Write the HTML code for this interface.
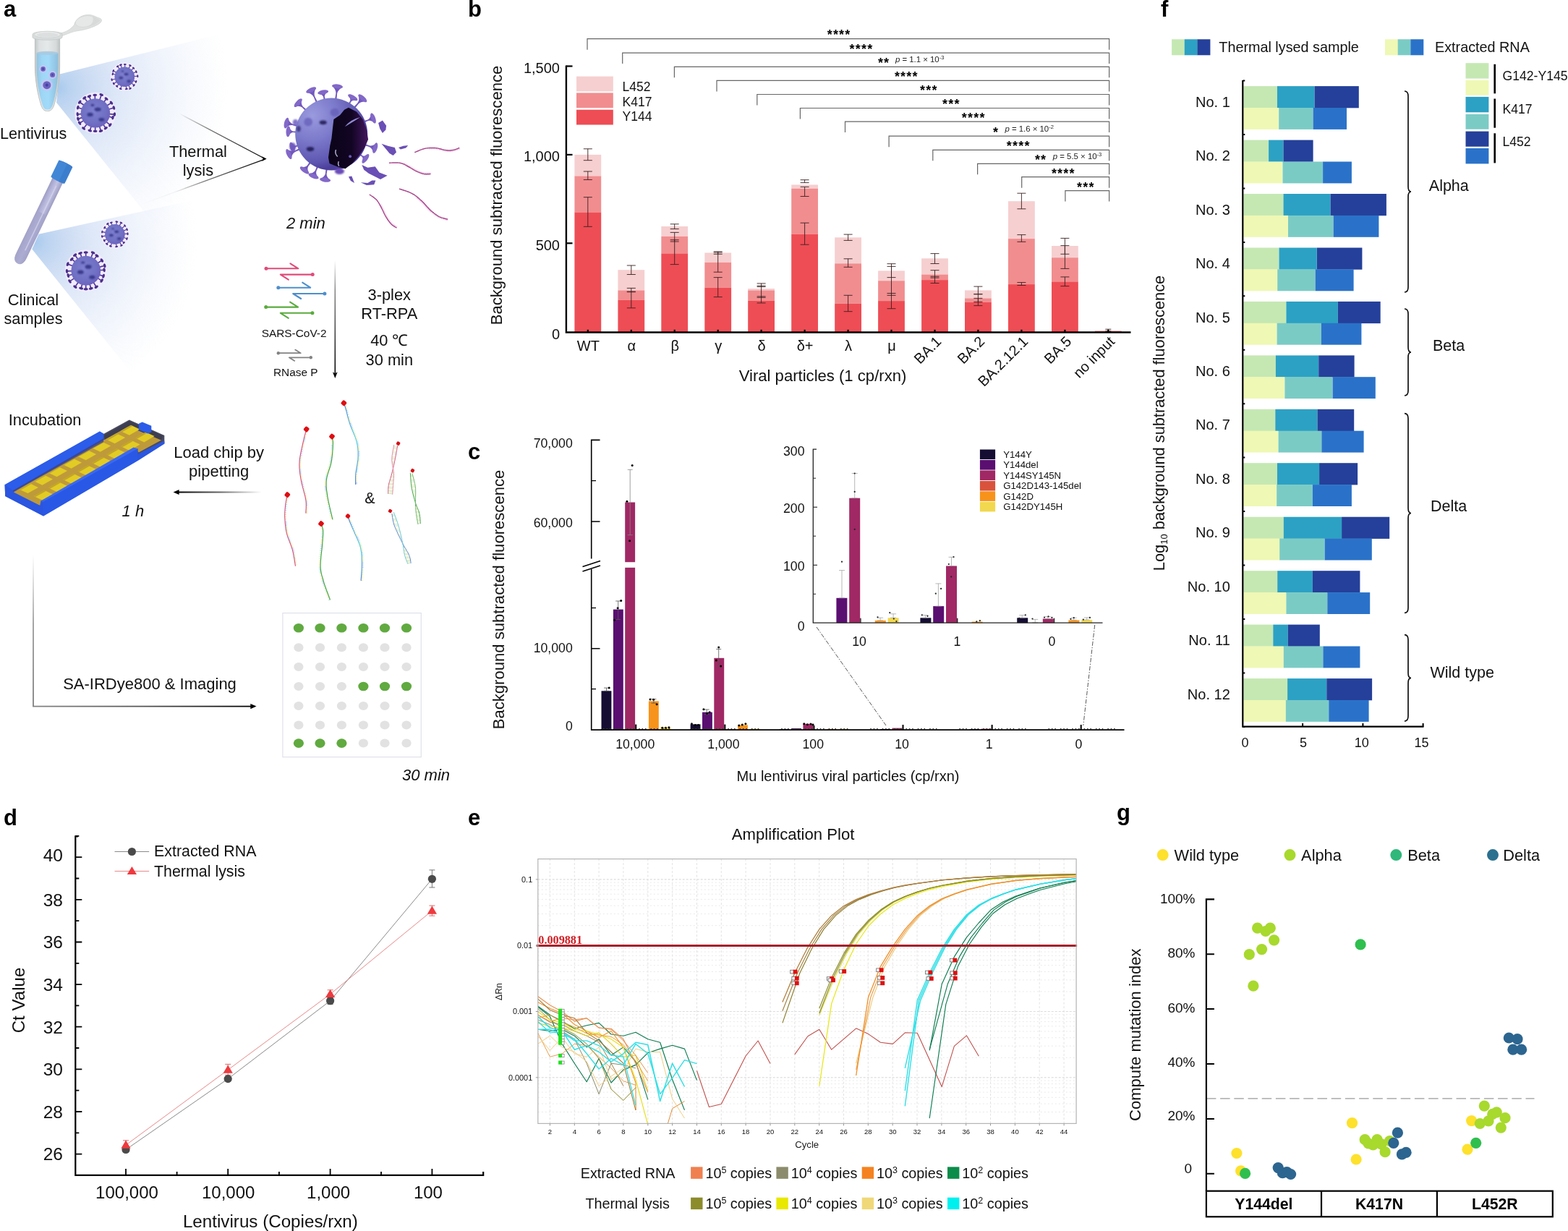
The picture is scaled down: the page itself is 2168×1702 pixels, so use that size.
<!DOCTYPE html>
<html lang="en">
<head>
<meta charset="utf-8">
<title>Figure</title>
<style>
html,body{margin:0;padding:0;background:#fff;}
body{width:2168px;height:1702px;overflow:hidden;}
svg{display:block;font-family:"Liberation Sans",sans-serif;}
</style>
</head>
<body>
<svg width="2168" height="1702" viewBox="0 0 2168 1702">
<rect width="2168" height="1702" fill="#fff"/>
<g id="panel-a">
<defs>
<radialGradient id="gBeam1" gradientUnits="userSpaceOnUse" cx="80" cy="122" r="235">
<stop offset="0" stop-color="#a8caee" stop-opacity="1"/><stop offset="0.07" stop-color="#bad3f0" stop-opacity="1"/><stop offset="0.2" stop-color="#cbdbf3" stop-opacity="0.95"/><stop offset="0.36" stop-color="#d6e2f6" stop-opacity="0.8"/><stop offset="0.62" stop-color="#dfe8f8" stop-opacity="0.5"/><stop offset="1" stop-color="#e8eefa" stop-opacity="0"/>
</radialGradient>
<radialGradient id="gBeam2" gradientUnits="userSpaceOnUse" cx="48" cy="334" r="225">
<stop offset="0" stop-color="#a8caee" stop-opacity="1"/><stop offset="0.07" stop-color="#bad3f0" stop-opacity="1"/><stop offset="0.2" stop-color="#cbdbf3" stop-opacity="0.95"/><stop offset="0.36" stop-color="#d6e2f6" stop-opacity="0.8"/><stop offset="0.62" stop-color="#dfe8f8" stop-opacity="0.5"/><stop offset="1" stop-color="#e8eefa" stop-opacity="0"/>
</radialGradient>
<radialGradient id="gVirus" cx="0.45" cy="0.42" r="0.68">
<stop offset="0" stop-color="#7f80d0"/><stop offset="0.6" stop-color="#7070c4"/><stop offset="1" stop-color="#6a5cba"/>
</radialGradient>
<radialGradient id="gBig" gradientUnits="userSpaceOnUse" cx="432" cy="160" r="75">
<stop offset="0" stop-color="#9a9ade"/><stop offset="0.45" stop-color="#7c7acb"/><stop offset="0.85" stop-color="#5f58b2"/><stop offset="1" stop-color="#4c3f9c"/>
</radialGradient>
<linearGradient id="gDark" gradientUnits="userSpaceOnUse" x1="455" y1="0" x2="512" y2="0">
<stop offset="0" stop-color="#0b0418"/><stop offset="0.55" stop-color="#120524"/><stop offset="1" stop-color="#4a1766"/>
</linearGradient>
<linearGradient id="gLineA" gradientUnits="userSpaceOnUse" x1="248" y1="0" x2="367" y2="0">
<stop offset="0" stop-color="#000" stop-opacity="0"/><stop offset="0.35" stop-color="#000" stop-opacity="0.55"/><stop offset="1" stop-color="#000" stop-opacity="1"/>
</linearGradient>
<linearGradient id="gLineB" gradientUnits="userSpaceOnUse" x1="194" y1="0" x2="367" y2="0">
<stop offset="0" stop-color="#000" stop-opacity="0"/><stop offset="0.28" stop-color="#000" stop-opacity="0.05"/><stop offset="0.5" stop-color="#000" stop-opacity="0.5"/><stop offset="1" stop-color="#000" stop-opacity="1"/>
</linearGradient>
<linearGradient id="gArrV" gradientUnits="userSpaceOnUse" x1="0" y1="360" x2="0" y2="520">
<stop offset="0" stop-color="#000" stop-opacity="0"/><stop offset="0.25" stop-color="#000" stop-opacity="0.45"/><stop offset="1" stop-color="#000" stop-opacity="1"/>
</linearGradient>
<linearGradient id="gArrH" gradientUnits="userSpaceOnUse" x1="362" y1="0" x2="245" y2="0">
<stop offset="0" stop-color="#000" stop-opacity="0"/><stop offset="0.5" stop-color="#000" stop-opacity="0.6"/><stop offset="1" stop-color="#000" stop-opacity="1"/>
</linearGradient>
<linearGradient id="gArrL" gradientUnits="userSpaceOnUse" x1="46" y1="767" x2="46" y2="977">
<stop offset="0" stop-color="#999" stop-opacity="0"/><stop offset="0.45" stop-color="#909090" stop-opacity="0.85"/><stop offset="1" stop-color="#858585" stop-opacity="1"/>
</linearGradient>
<linearGradient id="gArrL2" gradientUnits="userSpaceOnUse" x1="46" y1="0" x2="350" y2="0">
<stop offset="0" stop-color="#858585"/><stop offset="0.5" stop-color="#555"/><stop offset="1" stop-color="#000"/>
</linearGradient>
<linearGradient id="gTube" x1="0" y1="0" x2="1" y2="0">
<stop offset="0" stop-color="#c2c8c8"/><stop offset="0.18" stop-color="#dde1e1"/><stop offset="0.5" stop-color="#e6e9e9"/><stop offset="0.85" stop-color="#d6dada"/><stop offset="1" stop-color="#bcc2c2"/>
</linearGradient>
<linearGradient id="gLiq" x1="0" y1="0" x2="1" y2="0">
<stop offset="0" stop-color="#94c4e0"/><stop offset="0.25" stop-color="#9ed6f6"/><stop offset="0.55" stop-color="#a2daf9"/><stop offset="1" stop-color="#8cbedc"/>
</linearGradient>
<linearGradient id="gCTube" gradientUnits="userSpaceOnUse" x1="-8.4" y1="0" x2="8.4" y2="0">
<stop offset="0" stop-color="#9c9cc4"/><stop offset="0.3" stop-color="#b2b2d8"/><stop offset="0.55" stop-color="#c2c2e2"/><stop offset="1" stop-color="#9a9ac2"/>
</linearGradient>
<linearGradient id="gBlueCy" x1="0" y1="0" x2="0" y2="1">
<stop offset="0" stop-color="#4f7fd0"/><stop offset="0.45" stop-color="#58d0e0"/><stop offset="1" stop-color="#5080d0"/>
</linearGradient>
<filter id="blur1" x="-50%" y="-50%" width="200%" height="200%"><feGaussianBlur stdDeviation="0.9"/></filter>
<filter id="blur2" x="-50%" y="-50%" width="200%" height="200%"><feGaussianBlur stdDeviation="2.2"/></filter>
<filter id="blur3" x="-20%" y="-20%" width="140%" height="140%"><feGaussianBlur stdDeviation="3"/></filter>
<filter id="blur03" x="-10%" y="-10%" width="120%" height="120%"><feGaussianBlur stdDeviation="0.35"/></filter>
<filter id="blur05" x="-20%" y="-20%" width="140%" height="140%"><feGaussianBlur stdDeviation="0.5"/></filter>
</defs>
<text x="5.0" y="23.0" font-size="31" font-weight="bold" fill="#000">a</text>
<polygon points="82.5,102.6 330,40.8 330,455 78,141.7" fill="url(#gBeam1)" filter="url(#blur05)"/>
<polygon points="53.5,323.8 290,271.8 290,650 44.3,344.4" fill="url(#gBeam2)" filter="url(#blur05)"/>
<g id="eppendorf" filter="url(#blur03)">
<path d="M80 46.5C92 45 98 40 102.5 34.5C104 28 110 21.5 120 20.5C128 19.8 131 23 137.5 25C142 26.5 141.5 30 136 33.5C128 38.5 116 41.5 108 42.5C100 43.5 95 46.5 86 49.5Z" fill="#dfe0e0" stroke="#cfd1d1" stroke-width="0.7"/>
<ellipse cx="118" cy="29.6" rx="14" ry="7.6" fill="#e6e7e7" stroke="#d2d4d4" stroke-width="0.6" transform="rotate(-12 118 29.6)"/>
<path d="M128 22.5C133 24 137 26 138.5 28.5C134 33 127 36 121 37.5C127 34 130 29 128 22.5Z" fill="#d6d8d8" opacity="0.8"/>
<path d="M48.4 52V92C48.4 110 52 131 57 146C59.5 152.5 62 153.6 65.6 153.6C69.2 153.6 72 152.5 74.5 146C79.5 131 82.6 110 82.6 92V52Z" fill="url(#gTube)" stroke="#b9bebe" stroke-width="0.9"/>
<path d="M50.6 73.5V92C50.6 110 53.8 130.5 58.7 145C60.7 150.6 62.7 151.6 65.6 151.6C68.5 151.6 70.7 150.6 72.8 145C77.6 130.5 80.4 110 80.4 92V73.5C72 71.5 59 71.5 50.6 73.5Z" fill="url(#gLiq)"/>
<ellipse cx="65.5" cy="73.4" rx="14.9" ry="2.6" fill="#a8c9df" opacity="0.85"/>
<path d="M45 47.5C45 42 86 42 86 47.5V51.5C86 56.5 45 56.5 45 51.5Z" fill="#d9dcdc" stroke="#c2c6c6" stroke-width="0.7"/>
<ellipse cx="65.5" cy="47.8" rx="18" ry="4.6" fill="#e8eaea" stroke="#cbcfcf" stroke-width="0.7"/>
<ellipse cx="65.5" cy="48.4" rx="14.6" ry="3.1" fill="#dcdfdf"/>
<circle cx="59.6" cy="95.4" r="5.4" fill="#c9c6f2" opacity="0.85"/>
<circle cx="59.6" cy="95.4" r="3.3" fill="#6c62c2"/>
<circle cx="59.6" cy="95.4" r="1.3" fill="#3e3c96" opacity="0.8"/>
<circle cx="72.6" cy="103.5" r="5.7" fill="#c9c6f2" opacity="0.85"/>
<circle cx="72.6" cy="103.5" r="3.5" fill="#6c62c2"/>
<circle cx="72.6" cy="103.5" r="1.3" fill="#3e3c96" opacity="0.8"/>
<circle cx="64.8" cy="117.7" r="8.2" fill="#c9c6f2" opacity="0.85"/>
<circle cx="64.8" cy="117.7" r="5.5" fill="#6c62c2"/>
<circle cx="64.8" cy="117.7" r="2.1" fill="#3e3c96" opacity="0.8"/>
</g>
<circle cx="172.3" cy="106.2" r="19.6" fill="#f2ebff" opacity="0.92"/>
<path d="M185.6 105.5L190.3 105.3M184.6 111.5L188.1 113.0M182.2 115.2L185.2 118.0M178.0 118.3L180.0 122.4M174.3 119.4L174.8 123.0M168.0 118.9L166.7 122.8M163.9 116.6L161.6 119.3M161.0 113.3L157.2 115.7M159.3 109.2L154.6 110.2M159.3 103.0L155.8 102.2M160.5 99.9L156.7 97.9M164.9 95.1L162.7 91.7M168.1 93.5L166.9 89.6M172.7 92.8L172.8 89.0M178.2 94.2L180.0 90.4M181.8 96.8L184.6 94.1M184.6 100.9L188.4 99.2" stroke="#553796" stroke-width="1.14" fill="none" stroke-linecap="round"/>
<ellipse cx="190.3" cy="105.3" rx="2.0" ry="1.1" fill="#4a2e8a" transform="rotate(87 190.3 105.3)"/>
<ellipse cx="188.1" cy="113.0" rx="2.0" ry="1.1" fill="#4a2e8a" transform="rotate(113 188.1 113.0)"/>
<ellipse cx="185.2" cy="118.0" rx="2.0" ry="1.1" fill="#4a2e8a" transform="rotate(132 185.2 118.0)"/>
<ellipse cx="180.0" cy="122.4" rx="2.0" ry="1.1" fill="#4a2e8a" transform="rotate(155 180.0 122.4)"/>
<ellipse cx="174.8" cy="123.0" rx="2.0" ry="1.1" fill="#4a2e8a" transform="rotate(171 174.8 123.0)"/>
<ellipse cx="166.7" cy="122.8" rx="2.0" ry="1.1" fill="#4a2e8a" transform="rotate(199 166.7 122.8)"/>
<ellipse cx="161.6" cy="119.3" rx="2.0" ry="1.1" fill="#4a2e8a" transform="rotate(219 161.6 119.3)"/>
<ellipse cx="157.2" cy="115.7" rx="2.0" ry="1.1" fill="#4a2e8a" transform="rotate(238 157.2 115.7)"/>
<ellipse cx="154.6" cy="110.2" rx="2.0" ry="1.1" fill="#4a2e8a" transform="rotate(257 154.6 110.2)"/>
<ellipse cx="155.8" cy="102.2" rx="2.0" ry="1.1" fill="#4a2e8a" transform="rotate(284 155.8 102.2)"/>
<ellipse cx="156.7" cy="97.9" rx="2.0" ry="1.1" fill="#4a2e8a" transform="rotate(298 156.7 97.9)"/>
<ellipse cx="162.7" cy="91.7" rx="2.0" ry="1.1" fill="#4a2e8a" transform="rotate(326 162.7 91.7)"/>
<ellipse cx="166.9" cy="89.6" rx="2.0" ry="1.1" fill="#4a2e8a" transform="rotate(342 166.9 89.6)"/>
<ellipse cx="172.8" cy="89.0" rx="2.0" ry="1.1" fill="#4a2e8a" transform="rotate(362 172.8 89.0)"/>
<ellipse cx="180.0" cy="90.4" rx="2.0" ry="1.1" fill="#4a2e8a" transform="rotate(386 180.0 90.4)"/>
<ellipse cx="184.6" cy="94.1" rx="2.0" ry="1.1" fill="#4a2e8a" transform="rotate(406 184.6 94.1)"/>
<ellipse cx="188.4" cy="99.2" rx="2.0" ry="1.1" fill="#4a2e8a" transform="rotate(427 188.4 99.2)"/>
<circle cx="172.3" cy="106.2" r="13.8" fill="url(#gVirus)"/>
<ellipse cx="174.5" cy="102.6" rx="3.0" ry="1.9" fill="#2b2b7c" opacity="0.8" filter="url(#blur1)"/>
<ellipse cx="167.3" cy="107.6" rx="2.9" ry="1.8" fill="#2b2b7c" opacity="0.8" filter="url(#blur1)"/>
<ellipse cx="178.1" cy="112.3" rx="2.7" ry="1.7" fill="#2b2b7c" opacity="0.8" filter="url(#blur1)"/>
<ellipse cx="169.5" cy="98.6" rx="1.8" ry="1.1" fill="#2b2b7c" opacity="0.8" filter="url(#blur1)"/>
<circle cx="131.9" cy="156.4" r="28.6" fill="#f2ebff" opacity="0.92"/>
<path d="M151.4 157.6L158.4 158.1M150.8 161.3L156.0 162.6M147.2 168.6L152.3 172.8M143.0 172.5L146.3 177.2M137.7 175.1L139.5 181.2M131.7 175.9L131.6 181.4M126.0 175.1L124.3 180.7M119.9 171.9L115.6 177.5M115.4 166.9L110.1 170.2M113.4 162.6L107.9 164.4M112.4 157.7L107.2 158.0M113.3 150.5L107.7 148.7M115.9 145.2L110.2 141.2M120.5 140.5L116.8 135.4M125.2 138.0L123.4 133.1M131.4 136.9L131.3 131.4M138.0 137.8L140.2 131.0M143.8 140.9L147.1 136.5M148.3 145.8L154.0 142.1M150.7 151.0L157.4 149.0" stroke="#553796" stroke-width="1.668" fill="none" stroke-linecap="round"/>
<ellipse cx="158.4" cy="158.1" rx="2.9" ry="1.7" fill="#4a2e8a" transform="rotate(94 158.4 158.1)"/>
<ellipse cx="156.0" cy="162.6" rx="2.9" ry="1.7" fill="#4a2e8a" transform="rotate(104 156.0 162.6)"/>
<ellipse cx="152.3" cy="172.8" rx="2.9" ry="1.7" fill="#4a2e8a" transform="rotate(129 152.3 172.8)"/>
<ellipse cx="146.3" cy="177.2" rx="2.9" ry="1.7" fill="#4a2e8a" transform="rotate(145 146.3 177.2)"/>
<ellipse cx="139.5" cy="181.2" rx="2.9" ry="1.7" fill="#4a2e8a" transform="rotate(163 139.5 181.2)"/>
<ellipse cx="131.6" cy="181.4" rx="2.9" ry="1.7" fill="#4a2e8a" transform="rotate(181 131.6 181.4)"/>
<ellipse cx="124.3" cy="180.7" rx="2.9" ry="1.7" fill="#4a2e8a" transform="rotate(197 124.3 180.7)"/>
<ellipse cx="115.6" cy="177.5" rx="2.9" ry="1.7" fill="#4a2e8a" transform="rotate(218 115.6 177.5)"/>
<ellipse cx="110.1" cy="170.2" rx="2.9" ry="1.7" fill="#4a2e8a" transform="rotate(238 110.1 170.2)"/>
<ellipse cx="107.9" cy="164.4" rx="2.9" ry="1.7" fill="#4a2e8a" transform="rotate(252 107.9 164.4)"/>
<ellipse cx="107.2" cy="158.0" rx="2.9" ry="1.7" fill="#4a2e8a" transform="rotate(266 107.2 158.0)"/>
<ellipse cx="107.7" cy="148.7" rx="2.9" ry="1.7" fill="#4a2e8a" transform="rotate(288 107.7 148.7)"/>
<ellipse cx="110.2" cy="141.2" rx="2.9" ry="1.7" fill="#4a2e8a" transform="rotate(305 110.2 141.2)"/>
<ellipse cx="116.8" cy="135.4" rx="2.9" ry="1.7" fill="#4a2e8a" transform="rotate(324 116.8 135.4)"/>
<ellipse cx="123.4" cy="133.1" rx="2.9" ry="1.7" fill="#4a2e8a" transform="rotate(340 123.4 133.1)"/>
<ellipse cx="131.3" cy="131.4" rx="2.9" ry="1.7" fill="#4a2e8a" transform="rotate(359 131.3 131.4)"/>
<ellipse cx="140.2" cy="131.0" rx="2.9" ry="1.7" fill="#4a2e8a" transform="rotate(378 140.2 131.0)"/>
<ellipse cx="147.1" cy="136.5" rx="2.9" ry="1.7" fill="#4a2e8a" transform="rotate(397 147.1 136.5)"/>
<ellipse cx="154.0" cy="142.1" rx="2.9" ry="1.7" fill="#4a2e8a" transform="rotate(417 154.0 142.1)"/>
<ellipse cx="157.4" cy="149.0" rx="2.9" ry="1.7" fill="#4a2e8a" transform="rotate(434 157.4 149.0)"/>
<circle cx="131.9" cy="156.4" r="20.2" fill="url(#gVirus)"/>
<ellipse cx="135.1" cy="151.2" rx="4.5" ry="2.7" fill="#2b2b7c" opacity="0.8" filter="url(#blur1)"/>
<ellipse cx="124.6" cy="158.4" rx="4.2" ry="2.6" fill="#2b2b7c" opacity="0.8" filter="url(#blur1)"/>
<ellipse cx="140.4" cy="165.3" rx="3.9" ry="2.4" fill="#2b2b7c" opacity="0.8" filter="url(#blur1)"/>
<ellipse cx="127.9" cy="145.3" rx="2.6" ry="1.6" fill="#2b2b7c" opacity="0.8" filter="url(#blur1)"/>
<circle cx="158.9" cy="323.9" r="19.6" fill="#f2ebff" opacity="0.92"/>
<path d="M172.3 323.4L176.5 323.3M171.4 328.5L175.5 330.0M168.6 333.1L171.3 335.6M165.7 335.4L168.0 339.4M160.6 337.2L161.1 341.0M154.4 336.5L152.9 340.4M150.4 334.2L147.7 337.4M147.4 330.7L144.2 332.6M145.7 326.1L141.1 326.9M145.8 321.4L141.3 320.6M147.7 316.6L144.7 314.6M151.2 313.0L148.8 309.4M154.9 311.2L153.8 307.7M160.8 310.7L161.4 306.5M165.2 312.1L167.5 308.0M169.0 315.2L172.7 312.1M171.3 318.9L175.6 317.2" stroke="#553796" stroke-width="1.14" fill="none" stroke-linecap="round"/>
<ellipse cx="176.5" cy="323.3" rx="2.0" ry="1.1" fill="#4a2e8a" transform="rotate(88 176.5 323.3)"/>
<ellipse cx="175.5" cy="330.0" rx="2.0" ry="1.1" fill="#4a2e8a" transform="rotate(110 175.5 330.0)"/>
<ellipse cx="171.3" cy="335.6" rx="2.0" ry="1.1" fill="#4a2e8a" transform="rotate(133 171.3 335.6)"/>
<ellipse cx="168.0" cy="339.4" rx="2.0" ry="1.1" fill="#4a2e8a" transform="rotate(150 168.0 339.4)"/>
<ellipse cx="161.1" cy="341.0" rx="2.0" ry="1.1" fill="#4a2e8a" transform="rotate(173 161.1 341.0)"/>
<ellipse cx="152.9" cy="340.4" rx="2.0" ry="1.1" fill="#4a2e8a" transform="rotate(200 152.9 340.4)"/>
<ellipse cx="147.7" cy="337.4" rx="2.0" ry="1.1" fill="#4a2e8a" transform="rotate(220 147.7 337.4)"/>
<ellipse cx="144.2" cy="332.6" rx="2.0" ry="1.1" fill="#4a2e8a" transform="rotate(239 144.2 332.6)"/>
<ellipse cx="141.1" cy="326.9" rx="2.0" ry="1.1" fill="#4a2e8a" transform="rotate(260 141.1 326.9)"/>
<ellipse cx="141.3" cy="320.6" rx="2.0" ry="1.1" fill="#4a2e8a" transform="rotate(281 141.3 320.6)"/>
<ellipse cx="144.7" cy="314.6" rx="2.0" ry="1.1" fill="#4a2e8a" transform="rotate(303 144.7 314.6)"/>
<ellipse cx="148.8" cy="309.4" rx="2.0" ry="1.1" fill="#4a2e8a" transform="rotate(325 148.8 309.4)"/>
<ellipse cx="153.8" cy="307.7" rx="2.0" ry="1.1" fill="#4a2e8a" transform="rotate(343 153.8 307.7)"/>
<ellipse cx="161.4" cy="306.5" rx="2.0" ry="1.1" fill="#4a2e8a" transform="rotate(368 161.4 306.5)"/>
<ellipse cx="167.5" cy="308.0" rx="2.0" ry="1.1" fill="#4a2e8a" transform="rotate(388 167.5 308.0)"/>
<ellipse cx="172.7" cy="312.1" rx="2.0" ry="1.1" fill="#4a2e8a" transform="rotate(409 172.7 312.1)"/>
<ellipse cx="175.6" cy="317.2" rx="2.0" ry="1.1" fill="#4a2e8a" transform="rotate(428 175.6 317.2)"/>
<circle cx="158.9" cy="323.9" r="13.8" fill="url(#gVirus)"/>
<ellipse cx="161.1" cy="320.3" rx="3.0" ry="1.9" fill="#2b2b7c" opacity="0.8" filter="url(#blur1)"/>
<ellipse cx="153.9" cy="325.3" rx="2.9" ry="1.8" fill="#2b2b7c" opacity="0.8" filter="url(#blur1)"/>
<ellipse cx="164.7" cy="330.0" rx="2.7" ry="1.7" fill="#2b2b7c" opacity="0.8" filter="url(#blur1)"/>
<ellipse cx="156.1" cy="316.3" rx="1.8" ry="1.1" fill="#2b2b7c" opacity="0.8" filter="url(#blur1)"/>
<circle cx="118.8" cy="374.2" r="29.0" fill="#f2ebff" opacity="0.92"/>
<path d="M138.6 373.5L144.1 373.3M137.7 380.1L143.1 381.7M135.5 384.9L140.6 388.1M129.5 390.9L133.2 396.7M124.2 393.3L125.8 398.8M118.7 394.0L118.7 399.8M113.5 393.3L112.1 398.6M107.8 390.7L103.9 396.6M102.2 385.1L96.5 388.9M99.7 379.5L94.3 381.0M99.0 374.7L92.5 374.9M100.1 367.5L93.6 365.1M103.4 361.7L99.2 358.3M107.4 358.0L103.6 352.6M112.7 355.3L111.0 350.0M118.7 354.4L118.7 348.9M126.1 355.7L128.6 349.3M130.6 358.2L134.0 353.5M135.5 363.5L140.9 360.0M138.0 369.1L144.7 367.3" stroke="#553796" stroke-width="1.692" fill="none" stroke-linecap="round"/>
<ellipse cx="144.1" cy="373.3" rx="3.0" ry="1.7" fill="#4a2e8a" transform="rotate(88 144.1 373.3)"/>
<ellipse cx="143.1" cy="381.7" rx="3.0" ry="1.7" fill="#4a2e8a" transform="rotate(107 143.1 381.7)"/>
<ellipse cx="140.6" cy="388.1" rx="3.0" ry="1.7" fill="#4a2e8a" transform="rotate(123 140.6 388.1)"/>
<ellipse cx="133.2" cy="396.7" rx="3.0" ry="1.7" fill="#4a2e8a" transform="rotate(147 133.2 396.7)"/>
<ellipse cx="125.8" cy="398.8" rx="3.0" ry="1.7" fill="#4a2e8a" transform="rotate(164 125.8 398.8)"/>
<ellipse cx="118.7" cy="399.8" rx="3.0" ry="1.7" fill="#4a2e8a" transform="rotate(180 118.7 399.8)"/>
<ellipse cx="112.1" cy="398.6" rx="3.0" ry="1.7" fill="#4a2e8a" transform="rotate(195 112.1 398.6)"/>
<ellipse cx="103.9" cy="396.6" rx="3.0" ry="1.7" fill="#4a2e8a" transform="rotate(214 103.9 396.6)"/>
<ellipse cx="96.5" cy="388.9" rx="3.0" ry="1.7" fill="#4a2e8a" transform="rotate(237 96.5 388.9)"/>
<ellipse cx="94.3" cy="381.0" rx="3.0" ry="1.7" fill="#4a2e8a" transform="rotate(254 94.3 381.0)"/>
<ellipse cx="92.5" cy="374.9" rx="3.0" ry="1.7" fill="#4a2e8a" transform="rotate(268 92.5 374.9)"/>
<ellipse cx="93.6" cy="365.1" rx="3.0" ry="1.7" fill="#4a2e8a" transform="rotate(290 93.6 365.1)"/>
<ellipse cx="99.2" cy="358.3" rx="3.0" ry="1.7" fill="#4a2e8a" transform="rotate(309 99.2 358.3)"/>
<ellipse cx="103.6" cy="352.6" rx="3.0" ry="1.7" fill="#4a2e8a" transform="rotate(325 103.6 352.6)"/>
<ellipse cx="111.0" cy="350.0" rx="3.0" ry="1.7" fill="#4a2e8a" transform="rotate(342 111.0 350.0)"/>
<ellipse cx="118.7" cy="348.9" rx="3.0" ry="1.7" fill="#4a2e8a" transform="rotate(360 118.7 348.9)"/>
<ellipse cx="128.6" cy="349.3" rx="3.0" ry="1.7" fill="#4a2e8a" transform="rotate(381 128.6 349.3)"/>
<ellipse cx="134.0" cy="353.5" rx="3.0" ry="1.7" fill="#4a2e8a" transform="rotate(396 134.0 353.5)"/>
<ellipse cx="140.9" cy="360.0" rx="3.0" ry="1.7" fill="#4a2e8a" transform="rotate(417 140.9 360.0)"/>
<ellipse cx="144.7" cy="367.3" rx="3.0" ry="1.7" fill="#4a2e8a" transform="rotate(435 144.7 367.3)"/>
<circle cx="118.8" cy="374.2" r="20.4" fill="url(#gVirus)"/>
<ellipse cx="122.1" cy="368.9" rx="4.5" ry="2.8" fill="#2b2b7c" opacity="0.8" filter="url(#blur1)"/>
<ellipse cx="111.4" cy="376.2" rx="4.3" ry="2.6" fill="#2b2b7c" opacity="0.8" filter="url(#blur1)"/>
<ellipse cx="127.4" cy="383.2" rx="4.0" ry="2.5" fill="#2b2b7c" opacity="0.8" filter="url(#blur1)"/>
<ellipse cx="114.7" cy="363.0" rx="2.7" ry="1.6" fill="#2b2b7c" opacity="0.8" filter="url(#blur1)"/>
<g id="clinical-tube" transform="translate(84.8 238.8) rotate(25.7)">
<path d="M-7.6 8V128C-7.6 135.5 -4.5 139 0 139C4.5 139 7.6 135.5 7.6 128V8Z" fill="url(#gCTube)" stroke="#9a9abf" stroke-width="0.7"/>
<path d="M-7.2 62H7.2V128C7.2 135 4.3 138.4 0 138.4C-4.3 138.4 -7.2 135 -7.2 128Z" fill="#a6a6cc" opacity="0.75"/>
<path d="M1.5 20V118" stroke="#d6d6ee" stroke-width="1.4" opacity="0.8" stroke-linecap="round"/>
<path d="M-10.6 -13.5C-10.6 -15.5 10.6 -15.5 10.6 -13.5V11C10.6 13.2 -10.6 13.2 -10.6 11Z" fill="#4287d6"/>
<path d="M-10.6 -13.5C-10.6 -15.5 10.6 -15.5 10.6 -13.5V11C10.6 13.2 4 13 2 12.6V-14.6Z" fill="#3878c8" opacity="0.6"/>
</g>
<text x="0.0" y="191.7" font-size="21.6" fill="#111">Lentivirus</text>
<text x="46.0" y="421.8" font-size="21.8" text-anchor="middle" fill="#111">Clinical</text>
<text x="46.0" y="448.4" font-size="21.8" text-anchor="middle" fill="#111">samples</text>
<text x="273.9" y="217.0" font-size="21.8" text-anchor="middle" fill="#111">Thermal</text>
<text x="273.9" y="243.3" font-size="21.8" text-anchor="middle" fill="#111">lysis</text>
<text x="396.0" y="316.3" font-size="22" font-style="italic" fill="#111">2 min</text>
<path d="M248.4 157.3L366.8 219.8" stroke="url(#gLineA)" stroke-width="1.3" fill="none"/>
<path d="M194 283L366.8 219.8" stroke="url(#gLineB)" stroke-width="1.3" fill="none"/>
<path d="M368.6 219.6L362 216.2L363.6 219.6L362 223Z" fill="#000"/>
<g id="big-virus">
<path d="M462.7 139.3L464.4 129.3Q464.7 123.6 459.1 118.4Q467.1 114.9 474.0 120.3Q467.2 124.0 466.1 129.5L465.3 139.6Z" fill="#7257bd"/>
<ellipse cx="466.5" cy="119.4" rx="7.5" ry="3.0" fill="#8268c8" transform="rotate(7 466.5 119.4)"/>
<path d="M447.9 140.2L447.1 133.9Q446.0 130.5 439.3 128.9Q445.8 123.0 454.0 126.0Q448.5 130.0 448.8 133.6L450.4 139.7Z" fill="#7257bd"/>
<ellipse cx="446.7" cy="127.5" rx="7.5" ry="3.0" fill="#8268c8" transform="rotate(-11 446.7 127.5)"/>
<path d="M437.7 143.9L433.8 134.3Q431.0 129.2 423.4 127.6Q428.3 120.4 437.0 121.4Q433.3 128.1 435.3 133.6L440.0 142.8Z" fill="#7257bd"/>
<ellipse cx="430.2" cy="124.5" rx="7.5" ry="3.0" fill="#8268c8" transform="rotate(-25 430.2 124.5)"/>
<path d="M423.5 154.6L417.7 148.5Q414.0 145.6 407.0 147.6Q408.9 139.1 417.3 136.7Q415.7 143.8 418.8 147.3L425.3 152.8Z" fill="#7257bd"/>
<ellipse cx="412.2" cy="142.2" rx="7.5" ry="3.0" fill="#8268c8" transform="rotate(-47 412.2 142.2)"/>
<path d="M412.8 175.6L404.3 173.0Q399.4 172.2 394.2 177.3Q391.6 169.0 397.8 162.8Q400.1 169.8 404.7 171.4L413.4 173.1Z" fill="#7257bd"/>
<ellipse cx="396.0" cy="170.1" rx="7.5" ry="3.0" fill="#8268c8" transform="rotate(-76 396.0 170.1)"/>
<path d="M411.7 183.9L405.1 183.1Q401.3 183.3 398.0 189.3Q394.0 181.5 399.0 174.3Q401.5 180.7 405.2 181.4L411.9 181.4Z" fill="#7257bd"/>
<ellipse cx="398.5" cy="181.8" rx="7.5" ry="3.0" fill="#8268c8" transform="rotate(-86 398.5 181.8)"/>
<path d="M414.5 201.7L409.4 203.0Q406.7 204.3 406.5 211.0Q399.8 205.3 401.7 196.7Q405.9 201.9 408.8 201.4L413.7 199.3Z" fill="#7257bd"/>
<ellipse cx="404.1" cy="203.9" rx="7.5" ry="3.0" fill="#8268c8" transform="rotate(251 404.1 203.9)"/>
<path d="M416.6 206.5L408.1 210.0Q403.6 212.5 402.5 219.9Q395.3 215.0 396.2 206.3Q402.5 210.2 407.4 208.4L415.5 204.1Z" fill="#7257bd"/>
<ellipse cx="399.4" cy="213.1" rx="7.5" ry="3.0" fill="#8268c8" transform="rotate(245 399.4 213.1)"/>
<path d="M431.4 223.6L426.4 229.7Q424.1 233.4 427.0 239.9Q418.3 239.0 415.0 231.0Q422.0 231.9 425.0 228.6L429.3 222.1Z" fill="#7257bd"/>
<ellipse cx="421.0" cy="235.4" rx="7.5" ry="3.0" fill="#8268c8" transform="rotate(217 421.0 235.4)"/>
<path d="M441.1 228.9L437.5 236.3Q436.1 240.7 440.4 246.5Q431.7 247.7 426.6 240.6Q433.7 239.7 435.9 235.6L438.8 227.9Z" fill="#7257bd"/>
<ellipse cx="433.5" cy="243.5" rx="7.5" ry="3.0" fill="#8268c8" transform="rotate(203 433.5 243.5)"/>
<path d="M453.2 231.8L451.6 240.3Q451.4 245.1 457.0 249.7Q449.0 253.1 442.2 247.7Q448.9 244.8 449.9 240.1L450.7 231.5Z" fill="#7257bd"/>
<ellipse cx="449.6" cy="248.7" rx="7.5" ry="3.0" fill="#8268c8" transform="rotate(188 449.6 248.7)"/>
<path d="M480.5 144.8L484.0 139.7Q485.3 136.5 481.3 131.0Q490.1 130.9 494.3 138.6Q487.6 137.8 485.5 140.5L482.7 146.1Z" fill="#7257bd"/>
<ellipse cx="487.8" cy="134.8" rx="7.5" ry="3.0" fill="#8268c8" transform="rotate(30 487.8 134.8)"/>
<path d="M487.7 149.6L494.3 142.6Q497.6 138.2 495.7 130.9Q504.3 132.4 507.0 140.7Q499.5 139.9 495.6 143.7L489.6 151.3Z" fill="#7257bd"/>
<ellipse cx="501.3" cy="135.8" rx="7.5" ry="3.0" fill="#8268c8" transform="rotate(41 501.3 135.8)"/>
<path d="M501.2 167.8L508.5 165.4Q512.4 163.5 513.3 156.5Q520.2 161.8 518.7 170.5Q513.3 165.9 509.1 167.0L502.1 170.2Z" fill="#7257bd"/>
<ellipse cx="516.0" cy="163.5" rx="7.5" ry="3.0" fill="#8268c8" transform="rotate(69 516.0 163.5)"/>
<path d="M502.9 198.3L510.9 201.3Q515.5 202.3 520.9 197.4Q523.0 205.9 516.4 211.7Q514.7 204.7 510.4 202.9L502.2 200.7Z" fill="#7257bd"/>
<ellipse cx="518.7" cy="204.6" rx="7.5" ry="3.0" fill="#8268c8" transform="rotate(107 518.7 204.6)"/>
<path d="M496.8 211.6L501.2 215.2Q504.1 216.8 509.8 213.2Q509.1 221.9 501.1 225.4Q502.6 218.8 500.3 216.6L495.3 213.6Z" fill="#7257bd"/>
<ellipse cx="505.4" cy="219.3" rx="7.5" ry="3.0" fill="#8268c8" transform="rotate(125 505.4 219.3)"/>
<circle cx="458.2" cy="185.6" r="50" fill="url(#gBig)"/>
<ellipse cx="446.7" cy="169.3" rx="5.0" ry="2.9" fill="#1d1850" opacity="0.85" filter="url(#blur1)"/>
<ellipse cx="429.0" cy="206.1" rx="5.3" ry="3.2" fill="#1d1850" opacity="0.85" filter="url(#blur1)"/>
<ellipse cx="462.8" cy="155.4" rx="6.2" ry="5.6" fill="#6660b8" opacity="0.8" filter="url(#blur1)"/>
<ellipse cx="426.1" cy="168.6" rx="5.9" ry="5.9" fill="#6862ba" opacity="0.8" filter="url(#blur1)"/>
<ellipse cx="412.9" cy="178.1" rx="2.9" ry="4.1" fill="#2a2468" opacity="0.7" filter="url(#blur1)"/>
<ellipse cx="408.5" cy="169.3" rx="3.7" ry="4.4" fill="#7466c4" opacity="0.9" filter="url(#blur1)"/>
<ellipse cx="404.8" cy="203.1" rx="4.4" ry="5.9" fill="#6e58be" opacity="0.95" filter="url(#blur1)"/>
<ellipse cx="469.4" cy="236.9" rx="6.6" ry="4.1" fill="#6a4cb8" opacity="1" filter="url(#blur1)"/>
<polygon points="481.9,148.8 493.0,154.6 501.8,164.9 506.9,179.6 509.1,192.8 504.7,203.1 496.6,214.9 487.8,225.2 477.5,233.2 468.0,231.0 455.5,225.9 454.0,217.8 456.2,201.7 458.4,191.4 459.9,178.1 461.4,164.9 470.2,159.0 476.1,151.7" fill="url(#gDark)"/>
<path d="M476.8 175.2Q484.9 164.9 498.1 162.0Q489.3 167.9 476.8 175.2Z" fill="#8f8ad2"/>
<path d="M464.3 207.5q-1.5 5 2 8.5M468.0 223.7q-1 3 0.5 5.5" stroke="#c8c4ee" stroke-width="1.3" fill="none" stroke-linecap="round"/>
<circle cx="484.1" cy="216.3" r="2" fill="#6a58b0"/>
<polygon points="523.1,170.1 528.9,166.4 534.1,173.7 533.4,179.6 528.9,184.0 525.3,178.1" fill="#6a4fb6"/>
<polygon points="527.5,198.7 536.3,201.7 545.8,203.9 548.0,210.5 543.6,214.9 538.5,211.9 534.8,207.5" fill="#6a4fb6"/>
<polygon points="551.0,203.9 557.6,201.7 564.2,200.9 561.3,204.6 553.9,206.4" fill="#6a4fb6"/>
<polygon points="500.3,228.1 508.4,231.8 518.7,230.3 524.5,238.4 535.6,242.8 526.0,247.9 518.7,244.3 509.8,239.8 503.2,234.7" fill="#6a4fb6"/>
<polygon points="481.9,244.3 486.3,243.5 490.0,253.1 484.9,250.1" fill="#6a4fb6"/>
<polygon points="498.8,252.3 508.4,253.1 514.3,249.4 519.4,249.4 517.2,255.3 506.9,256.0" fill="#6a4fb6"/>
</g>
<path d="M593.9 204.5L594.0 206.7M596.3 204.4L596.4 206.6M598.8 204.4L598.8 206.6M601.2 204.5L601.1 206.7M603.6 204.7L603.3 206.9M605.9 205.1L605.4 207.3M608.2 205.7L607.6 207.8M610.4 206.3L609.8 208.4M612.6 206.9L612.0 209.0M614.6 207.4L614.2 209.5M616.6 207.6L616.3 209.8M618.4 207.8L618.3 210.0M620.2 207.9L620.1 210.1M621.9 207.9L621.9 210.1M623.5 207.8L623.6 210.0M625.1 207.6L625.4 209.8M626.7 207.4L627.1 209.5M628.4 206.9L629.0 209.0M630.1 206.4L630.9 208.4M631.7 205.8L632.5 207.8M633.2 205.2L634.0 207.2M634.7 204.6L635.5 206.7" stroke="#d98cc6" stroke-width="0.7" fill="none"/>
<path d="M573.8 210.5L574.4 210.2L575.3 209.9L576.2 209.4L577.3 209.0L578.5 208.5L579.8 207.9L581.1 207.4L582.5 206.9L583.8 206.4L585.2 206.0L586.5 205.6L587.7 205.3L588.9 205.1L590.1 204.9L591.4 204.7L592.6 204.6L593.9 204.5L595.1 204.5L596.3 204.4L597.6 204.4L598.8 204.4L600.0 204.4L601.2 204.5L602.4 204.6L603.6 204.7L604.7 204.9L605.9 205.1L607.0 205.4L608.2 205.7L609.3 206.0L610.4 206.3L611.5 206.6L612.6 206.9L613.6 207.2L614.6 207.4L615.6 207.5L616.6 207.6L617.5 207.7L618.4 207.8L619.3 207.9L620.2 207.9L621.0 207.9L621.9 207.9L622.7 207.9L623.5 207.8L624.3 207.7L625.1 207.6L625.9 207.5L626.7 207.4L627.6 207.2L628.4 206.9L629.3 206.7L630.1 206.4L631.0 206.1L631.7 205.8L632.5 205.5L633.2 205.2L633.8 204.9L634.3 204.7L634.7 204.6" stroke="#a8468c" stroke-width="1.45" fill="none" stroke-linecap="round"/>
<path d="M559.2 227.4L560.1 225.4M561.1 228.4L562.1 226.5M562.9 229.5L564.0 227.6M564.8 230.5L565.8 228.6M566.6 231.5L567.6 229.6M568.3 232.5L569.5 230.6M570.1 233.6L571.2 231.7M571.7 234.6L572.9 232.7M573.4 235.6L574.5 233.7M575.1 236.5L576.1 234.5M576.8 237.3L577.7 235.3M578.6 238.1L579.4 236.0M580.3 238.8L581.1 236.7M582.1 239.4L582.8 237.4M583.8 240.0L584.4 237.9M585.4 240.4L586.0 238.3M587.1 240.7L587.4 238.5M588.8 240.8L588.9 238.6M590.5 240.8L590.4 238.6M592.1 240.8L592.0 238.6M593.5 240.7L593.3 238.5M595.1 240.6L595.0 238.4" stroke="#d98cc6" stroke-width="0.7" fill="none"/>
<path d="M538.5 225.2L539.3 225.2L540.2 225.1L541.4 225.1L542.6 225.0L544.0 225.0L545.5 225.0L547.0 224.9L548.5 225.0L550.0 225.0L551.4 225.1L552.7 225.2L553.9 225.5L555.0 225.7L556.1 226.1L557.2 226.5L558.2 226.9L559.2 227.4L560.1 227.9L561.1 228.4L562.0 229.0L562.9 229.5L563.8 230.0L564.8 230.5L565.7 231.0L566.6 231.5L567.5 232.0L568.3 232.5L569.2 233.1L570.1 233.6L570.9 234.1L571.7 234.6L572.6 235.1L573.4 235.6L574.3 236.1L575.1 236.5L576.0 236.9L576.8 237.3L577.7 237.7L578.6 238.1L579.4 238.4L580.3 238.8L581.2 239.1L582.1 239.4L582.9 239.7L583.8 240.0L584.6 240.2L585.4 240.4L586.2 240.6L587.1 240.7L587.9 240.8L588.8 240.8L589.6 240.9L590.5 240.8L591.3 240.8L592.1 240.8L592.8 240.7L593.5 240.7L594.1 240.6L594.6 240.6L595.1 240.6" stroke="#a8468c" stroke-width="1.45" fill="none" stroke-linecap="round"/>
<path d="M577.1 272.5L575.7 274.3M578.1 273.4L576.7 275.1M579.2 274.3L577.7 276.0M580.2 275.2L578.7 276.9M581.2 276.2L579.8 277.8M582.3 277.1L580.8 278.7M583.3 278.0L581.8 279.7M584.3 279.0L582.8 280.6M585.3 280.0L583.8 281.6M586.3 281.1L584.7 282.6M587.3 282.2L585.7 283.7M588.3 283.3L586.7 284.7M589.3 284.4L587.6 285.8M590.2 285.5L588.6 286.9M591.2 286.6L589.5 288.0M592.2 287.6L590.5 289.1M593.1 288.6L591.5 290.1M594.1 289.6L592.5 291.2M595.1 290.5L593.5 292.1M596.0 291.4L594.6 293.0M597.0 292.3L595.6 293.9M599.0 293.9L597.6 295.6M600.9 295.5L599.6 297.2M602.9 296.9L601.6 298.7M604.9 298.2L603.7 300.1M606.8 299.3L605.7 301.3M608.9 300.3L608.0 302.3M611.2 301.1L610.5 303.2M613.4 301.7L612.8 303.9M615.5 302.3L615.0 304.4M617.3 302.7L616.8 304.8M618.6 303.0L618.0 305.1" stroke="#d98cc6" stroke-width="0.7" fill="none"/>
<path d="M552.5 261.2L553.3 261.5L554.4 261.8L555.7 262.3L557.2 262.7L558.8 263.3L560.4 263.8L562.2 264.4L563.9 265.0L565.6 265.7L567.2 266.4L568.7 267.1L570.1 267.8L571.3 268.5L572.6 269.2L573.7 270.0L574.9 270.8L576.0 271.7L577.1 272.5L578.1 273.4L579.2 274.3L580.2 275.2L581.2 276.2L582.3 277.1L583.3 278.0L584.3 279.0L585.3 280.0L586.3 281.1L587.3 282.2L588.3 283.3L589.3 284.4L590.2 285.5L591.2 286.6L592.2 287.6L593.1 288.6L594.1 289.6L595.1 290.5L596.0 291.4L597.0 292.3L598.0 293.1L599.0 293.9L600.0 294.7L600.9 295.5L601.9 296.2L602.9 296.9L603.9 297.6L604.9 298.2L605.8 298.8L606.8 299.3L607.8 299.8L608.9 300.3L610.0 300.7L611.2 301.1L612.3 301.4L613.4 301.7L614.5 302.0L615.5 302.3L616.4 302.5L617.3 302.7L618.0 302.9L618.6 303.0" stroke="#a8468c" stroke-width="1.45" fill="none" stroke-linecap="round"/>
<path d="M525.4 283.7L527.4 282.7M526.5 285.7L528.4 284.7M527.5 287.6L529.4 286.5M528.5 289.5L530.4 288.5M529.4 291.5L531.4 290.6M530.4 293.5L532.4 292.6M531.3 295.5L533.3 294.6M532.3 297.5L534.3 296.5M533.4 299.3L535.3 298.2M534.5 301.2L536.4 300.0M535.7 303.1L537.5 301.9M536.9 304.9L538.7 303.7M538.2 306.6L540.0 305.3M539.5 308.2L541.2 306.8M540.7 309.6L542.3 308.1M542.0 310.8L543.5 309.2M543.4 311.9L544.7 310.1M544.8 312.8L546.0 311.0M546.1 313.6L547.3 311.7M547.7 314.5L548.8 312.7" stroke="#d98cc6" stroke-width="0.7" fill="none"/>
<path d="M511.3 269.2L511.8 269.6L512.4 270.0L513.1 270.5L513.9 271.0L514.8 271.6L515.7 272.2L516.6 272.9L517.5 273.6L518.5 274.3L519.3 275.1L520.1 275.8L520.9 276.6L521.5 277.4L522.1 278.2L522.7 279.1L523.3 279.9L523.9 280.9L524.4 281.8L524.9 282.8L525.4 283.7L525.9 284.7L526.5 285.7L527.0 286.6L527.5 287.6L528.0 288.6L528.5 289.5L529.0 290.5L529.4 291.5L529.9 292.5L530.4 293.5L530.8 294.5L531.3 295.5L531.8 296.5L532.3 297.5L532.8 298.4L533.4 299.3L533.9 300.3L534.5 301.2L535.1 302.1L535.7 303.1L536.3 304.0L536.9 304.9L537.6 305.8L538.2 306.6L538.8 307.5L539.5 308.2L540.1 309.0L540.7 309.6L541.3 310.3L542.0 310.8L542.7 311.4L543.4 311.9L544.1 312.4L544.8 312.8L545.5 313.3L546.1 313.6L546.7 314.0L547.2 314.3L547.7 314.5L548.0 314.8" stroke="#a8468c" stroke-width="1.45" fill="none" stroke-linecap="round"/>
<path d="M368.0 371.3H412.4L401.4 364.3M432.2 379.6H387.8L398.8 386.6" stroke="#e04b7a" stroke-width="2.1" fill="none" stroke-linejoin="round" stroke-linecap="round"/>
<circle cx="368.0" cy="371.3" r="2.5" fill="#e04b7a"/>
<circle cx="432.2" cy="379.6" r="2.5" fill="#e04b7a"/>
<path d="M384.8 397.7H429.2L418.2 390.7M448.9 406.0H405.2L416.2 413.0" stroke="#4d8fcc" stroke-width="2.1" fill="none" stroke-linejoin="round" stroke-linecap="round"/>
<circle cx="384.8" cy="397.7" r="2.5" fill="#4d8fcc"/>
<circle cx="448.9" cy="406.0" r="2.5" fill="#4d8fcc"/>
<path d="M367.7 424.6H412.1L401.1 417.6M431.9 432.8H387.8L398.8 439.8" stroke="#5aab3e" stroke-width="2.1" fill="none" stroke-linejoin="round" stroke-linecap="round"/>
<circle cx="367.7" cy="424.6" r="2.5" fill="#5aab3e"/>
<circle cx="431.9" cy="432.8" r="2.5" fill="#5aab3e"/>
<path d="M384.8 488.2H415.7L408.2 483.6M429.8 494.3H399.8L407.3 498.9" stroke="#828282" stroke-width="1.8" fill="none" stroke-linejoin="round" stroke-linecap="round"/>
<circle cx="384.8" cy="488.2" r="2.2" fill="#828282"/>
<circle cx="429.8" cy="494.3" r="2.2" fill="#828282"/>
<text x="406.6" y="465.8" font-size="15.4" text-anchor="middle" fill="#111">SARS-CoV-2</text>
<text x="408.8" y="519.8" font-size="15.4" text-anchor="middle" fill="#111">RNase P</text>
<path d="M463.3 361V516" stroke="url(#gArrV)" stroke-width="1.6" fill="none"/>
<path d="M463.3 523L460 514.6L463.3 516.2L466.6 514.6Z" fill="#000"/>
<text x="538.3" y="414.9" font-size="21.8" text-anchor="middle" fill="#111">3-plex</text>
<text x="538.3" y="441.2" font-size="21.8" text-anchor="middle" fill="#111">RT-RPA</text>
<text x="538.3" y="478.2" font-size="21.8" text-anchor="middle" fill="#111">40 ℃</text>
<text x="538.3" y="504.6" font-size="21.8" text-anchor="middle" fill="#111">30 min</text>
<g id="probes">
<path d="M423.3 595.1L425.6 595.8M422.6 597.4L424.9 598.1M421.9 600.2L424.2 600.8M421.0 603.3L423.4 603.9M418.9 612.5L421.2 613.0M418.4 614.6L420.8 615.1M417.9 616.8L420.2 617.4M417.4 619.2L419.7 619.7M414.0 640.8L416.4 641.0M413.9 643.0L416.3 643.0M414.0 645.0L416.4 645.0M414.0 647.0L416.4 646.9M415.1 657.0L417.5 656.7M415.5 659.1L417.8 658.7M415.8 661.2L418.2 660.8M416.2 663.3L418.5 663.0M421.6 685.2L423.9 684.6M422.1 687.4L424.4 686.9M422.5 689.6L424.9 689.1M422.9 691.5L425.2 691.1M423.3 702.1L425.7 702.2M423.1 705.0L425.5 705.1M422.9 707.4L425.3 707.5M422.9 709.2L425.3 709.2" stroke="#f4e27a" stroke-width="0.75" fill="none"/>
<path d="M420.6 605.0L422.9 605.6M420.2 606.8L422.5 607.4M419.8 608.6L422.1 609.2M419.3 610.5L421.7 611.0M414.2 649.0L416.6 648.9M414.4 651.0L416.8 650.8M414.6 653.0L417.0 652.7M414.8 655.0L417.2 654.7M423.1 693.4L425.5 693.1M423.3 695.3L425.6 695.1M423.3 697.1L425.7 697.0M423.4 698.9L425.8 698.8" stroke="#8cd8ec" stroke-width="0.75" fill="none"/>
<path d="M416.8 621.6L419.2 622.1M416.3 624.1L418.6 624.6M415.8 626.6L418.1 627.1M415.3 629.1L417.7 629.6M416.6 665.6L418.9 665.2M417.1 668.0L419.4 667.5M417.7 670.4L420.0 669.8M418.3 672.9L420.6 672.3" stroke="#9cb6ec" stroke-width="0.75" fill="none"/>
<path d="M414.9 631.6L417.2 632.0M414.5 634.1L416.9 634.4M414.2 636.4L416.6 636.7M414.1 638.7L416.4 638.9M419.0 675.4L421.3 674.8M419.6 677.9L422.0 677.3M420.3 680.4L422.6 679.7M421.0 682.8L423.3 682.2" stroke="#b4e49a" stroke-width="0.75" fill="none"/>
<path d="M423.7 593.4L423.5 594.2L423.3 595.1L423.0 596.2L422.6 597.4L422.3 598.7L421.9 600.2L421.5 601.7L421.0 603.3L420.6 605.0L420.2 606.8L419.8 608.6L419.3 610.5L418.9 612.5L418.4 614.6L417.9 616.8L417.4 619.2L416.8 621.6L416.3 624.1L415.8 626.6L415.3 629.1L414.9 631.6L414.5 634.1L414.2 636.4L414.1 638.7L414.0 640.8L413.9 643.0L414.0 645.0L414.0 647.0L414.2 649.0L414.4 651.0L414.6 653.0L414.8 655.0L415.1 657.0L415.5 659.1L415.8 661.2L416.2 663.3L416.6 665.6L417.1 668.0L417.7 670.4L418.3 672.9L419.0 675.4L419.6 677.9L420.3 680.4L421.0 682.8L421.6 685.2L422.1 687.4L422.5 689.6L422.9 691.5L423.1 693.4L423.3 695.3L423.3 697.1L423.4 698.9L423.3 700.5L423.3 702.1L423.2 703.6L423.1 705.0L423.0 706.2L422.9 707.4L422.9 708.3L422.9 709.2" stroke="#d2527f" stroke-width="1.15" fill="none" stroke-linecap="round"/>
<rect x="420.4" y="590.1" width="6.6" height="6.6" rx="1.8" fill="#df0d12" transform="rotate(40 423.7 593.4)"/>
<path d="M396.8 686.7L399.1 687.2M396.3 689.0L398.7 689.5M395.8 691.6L398.1 692.1M395.3 694.4L397.6 694.8M393.8 708.5L396.2 708.6M393.7 711.5L396.1 711.5M393.7 714.6L396.1 714.6M393.9 717.8L396.3 717.7M396.0 735.5L398.4 735.0M396.4 737.4L398.8 736.8M396.9 739.2L399.2 738.6M397.5 741.1L399.8 740.4M401.1 750.7L403.3 749.8M401.8 752.6L404.0 751.8M402.5 754.6L404.8 753.7M403.2 756.5L405.5 755.7M407.2 774.7L409.6 774.3M407.5 776.6L409.9 776.2M407.8 778.4L410.1 778.0M408.2 781.2L410.6 780.8" stroke="#f4e27a" stroke-width="0.75" fill="none"/>
<path d="M394.8 697.2L397.2 697.6M394.5 699.9L396.9 700.2M394.2 702.7L396.6 702.9M394.0 705.5L396.4 705.7M398.1 743.0L400.4 742.2M398.8 744.9L401.1 744.1M399.6 746.8L401.8 746.0M400.3 748.8L402.5 747.9" stroke="#8cd8ec" stroke-width="0.75" fill="none"/>
<path d="M394.1 721.2L396.5 721.0M394.2 722.9L396.6 722.7M394.4 724.7L396.8 724.5M394.6 726.5L396.9 726.2M403.8 758.4L406.1 757.6M404.4 760.3L406.7 759.6M404.8 762.2L407.2 761.6M405.3 764.2L407.6 763.7" stroke="#9cb6ec" stroke-width="0.75" fill="none"/>
<path d="M394.8 728.2L397.2 728.0M395.0 730.0L397.4 729.7M395.3 731.9L397.7 731.5M395.6 733.7L398.0 733.3M405.7 766.3L408.1 765.9M406.1 768.5L408.5 768.0M406.5 770.6L408.9 770.2M406.9 772.7L409.2 772.3" stroke="#b4e49a" stroke-width="0.75" fill="none"/>
<path d="M397.3 684.1L397.2 684.8L397.0 685.7L396.8 686.7L396.6 687.8L396.3 689.0L396.0 690.3L395.8 691.6L395.5 693.0L395.3 694.4L395.0 695.8L394.8 697.2L394.7 698.6L394.5 699.9L394.4 701.3L394.2 702.7L394.1 704.1L394.0 705.5L393.9 707.0L393.8 708.5L393.8 710.0L393.7 711.5L393.7 713.0L393.7 714.6L393.8 716.2L393.9 717.8L394.0 719.5L394.1 721.2L394.2 722.9L394.4 724.7L394.6 726.5L394.8 728.2L395.0 730.0L395.3 731.9L395.6 733.7L396.0 735.5L396.4 737.4L396.9 739.2L397.5 741.1L398.1 743.0L398.8 744.9L399.6 746.8L400.3 748.8L401.1 750.7L401.8 752.6L402.5 754.6L403.2 756.5L403.8 758.4L404.4 760.3L404.8 762.2L405.3 764.2L405.7 766.3L406.1 768.5L406.5 770.6L406.9 772.7L407.2 774.7L407.5 776.6L407.8 778.4L408.0 779.9L408.2 781.2L408.4 782.3" stroke="#d2527f" stroke-width="1.15" fill="none" stroke-linecap="round"/>
<rect x="394.0" y="680.8" width="6.6" height="6.6" rx="1.8" fill="#df0d12" transform="rotate(40 397.3 684.1)"/>
<path d="M459.5 605.7L457.2 606.2M460.0 608.1L457.6 608.5M460.3 610.1L457.9 610.4M460.4 612.6L458.0 612.7M459.9 623.3L457.5 623.1M459.8 625.5L457.4 625.3M459.6 627.7L457.2 627.5M459.3 629.9L456.9 629.7M455.2 649.0L452.9 648.3M454.5 651.1L452.2 650.4M453.8 653.2L451.6 652.4M453.2 655.3L450.9 654.5M451.2 665.3L448.8 665.1M451.1 667.2L448.7 667.0M451.1 669.0L448.7 668.9M451.1 670.8L448.7 670.8M453.2 688.7L450.9 689.1M453.7 691.4L451.4 691.8M454.3 694.3L452.0 694.8M455.0 697.3L452.7 697.9M458.5 712.1L456.1 712.6M459.0 714.4L456.7 715.0M459.5 716.4L457.2 717.0" stroke="#f4e27a" stroke-width="0.75" fill="none"/>
<path d="M460.3 615.6L457.9 615.5M460.3 617.3L457.9 617.2M460.2 619.2L457.8 619.1M460.1 621.2L457.7 621.0M452.6 657.3L450.3 656.6M452.1 659.3L449.8 658.8M451.7 661.4L449.3 660.9M451.4 663.3L449.0 663.0M455.7 700.5L453.4 701.0M456.4 703.5L454.1 704.1M457.1 706.6L454.8 707.1M457.8 709.4L455.5 710.0" stroke="#8cd8ec" stroke-width="0.75" fill="none"/>
<path d="M459.1 632.2L456.7 631.9M458.8 634.4L456.4 634.1M458.5 636.6L456.1 636.2M458.1 638.7L455.7 638.3M451.1 672.6L448.7 672.7M451.3 674.4L448.9 674.5M451.4 676.2L449.0 676.4M451.6 678.0L449.2 678.3" stroke="#9cb6ec" stroke-width="0.75" fill="none"/>
<path d="M457.7 640.7L455.3 640.2M457.2 642.8L454.8 642.2M456.6 644.9L454.2 644.2M455.9 647.0L453.6 646.2M451.9 679.9L449.5 680.3M452.2 681.9L449.8 682.3M452.5 684.0L450.1 684.4M452.8 686.3L450.4 686.6" stroke="#b4e49a" stroke-width="0.75" fill="none"/>
<path d="M459.0 603.4L459.1 603.9L459.2 604.4L459.3 605.0L459.5 605.7L459.7 606.4L459.8 607.2L460.0 608.1L460.1 609.0L460.3 610.1L460.4 611.3L460.4 612.6L460.4 614.0L460.3 615.6L460.3 617.3L460.2 619.2L460.1 621.2L459.9 623.3L459.8 625.5L459.6 627.7L459.3 629.9L459.1 632.2L458.8 634.4L458.5 636.6L458.1 638.7L457.7 640.7L457.2 642.8L456.6 644.9L455.9 647.0L455.2 649.0L454.5 651.1L453.8 653.2L453.2 655.3L452.6 657.3L452.1 659.3L451.7 661.4L451.4 663.3L451.2 665.3L451.1 667.2L451.1 669.0L451.1 670.8L451.1 672.6L451.3 674.4L451.4 676.2L451.6 678.0L451.9 679.9L452.2 681.9L452.5 684.0L452.8 686.3L453.2 688.7L453.7 691.4L454.3 694.3L455.0 697.3L455.7 700.5L456.4 703.5L457.1 706.6L457.8 709.4L458.5 712.1L459.0 714.4L459.5 716.4L459.9 718.0" stroke="#3fa243" stroke-width="1.15" fill="none" stroke-linecap="round"/>
<rect x="455.7" y="600.1" width="6.6" height="6.6" rx="1.8" fill="#df0d12" transform="rotate(40 459.0 603.4)"/>
<path d="M444.8 726.4L442.6 727.2M445.7 728.7L443.4 729.5M446.2 730.6L443.8 731.2M446.5 732.7L444.2 733.1M446.2 745.9L443.8 745.7M446.1 747.6L443.7 747.4M445.9 749.5L443.5 749.3M445.8 751.5L443.4 751.3M443.3 775.7L440.9 775.5M443.2 778.3L440.8 778.2M443.1 780.9L440.7 780.8M443.1 783.2L440.7 783.2M444.2 792.6L441.9 793.0M445.0 795.8L442.7 796.4M446.0 799.0L443.7 799.7M446.5 800.7L444.2 801.4M453.1 820.3L450.8 821.1M453.9 822.5L451.6 823.3M454.7 824.5L452.4 825.3M455.3 826.3L453.1 827.1" stroke="#f4e27a" stroke-width="0.75" fill="none"/>
<path d="M446.7 735.0L444.3 735.1M446.7 737.3L444.3 737.3M446.6 739.9L444.2 739.8M446.4 742.7L444.0 742.5M443.2 785.3L440.8 785.4M443.4 787.3L441.0 787.5M443.6 789.1L441.2 789.4M443.9 790.9L441.5 791.3M456.3 829.0L454.1 829.8" stroke="#8cd8ec" stroke-width="0.75" fill="none"/>
<path d="M445.6 753.6L443.2 753.4M445.4 756.0L443.0 755.8M445.1 758.6L442.7 758.4M444.8 761.4L442.4 761.1M447.0 802.5L444.7 803.2M447.5 804.3L445.2 805.0M448.1 806.3L445.8 807.0M448.8 808.5L446.6 809.2" stroke="#9cb6ec" stroke-width="0.75" fill="none"/>
<path d="M444.4 764.2L442.1 763.9M444.1 767.1L441.7 766.8M443.8 770.0L441.4 769.7M443.6 772.9L441.2 772.6M449.6 810.8L447.4 811.6M450.5 813.2L448.2 814.0M451.3 815.6L449.1 816.4M452.2 818.0L450.0 818.8" stroke="#b4e49a" stroke-width="0.75" fill="none"/>
<path d="M444.0 724.1L444.1 724.6L444.3 725.1L444.6 725.7L444.8 726.4L445.1 727.1L445.4 727.9L445.7 728.7L445.9 729.7L446.2 730.6L446.4 731.6L446.5 732.7L446.7 733.8L446.7 735.0L446.7 736.1L446.7 737.3L446.7 738.6L446.6 739.9L446.5 741.3L446.4 742.7L446.3 744.2L446.2 745.9L446.1 747.6L445.9 749.5L445.8 751.5L445.6 753.6L445.4 756.0L445.1 758.6L444.8 761.4L444.4 764.2L444.1 767.1L443.8 770.0L443.6 772.9L443.3 775.7L443.2 778.3L443.1 780.9L443.1 783.2L443.2 785.3L443.4 787.3L443.6 789.1L443.9 790.9L444.2 792.6L444.6 794.2L445.0 795.8L445.5 797.4L446.0 799.0L446.5 800.7L447.0 802.5L447.5 804.3L448.1 806.3L448.8 808.5L449.6 810.8L450.5 813.2L451.3 815.6L452.2 818.0L453.1 820.3L453.9 822.5L454.7 824.5L455.3 826.3L455.9 827.8L456.3 829.0" stroke="#3fa243" stroke-width="1.15" fill="none" stroke-linecap="round"/>
<rect x="440.7" y="720.8" width="6.6" height="6.6" rx="1.8" fill="#df0d12" transform="rotate(40 444.0 724.1)"/>
<path d="M476.1 559.3L478.3 558.5M476.8 561.4L479.1 560.7M477.4 563.2L479.7 562.5M478.0 565.3L480.3 564.6M481.5 578.6L483.8 578.0M482.0 580.4L484.3 579.7M482.5 582.2L484.8 581.5M483.1 584.0L485.4 583.3M490.3 602.3L492.5 601.4M491.1 604.4L493.3 603.6M491.8 606.5L494.1 605.7M492.5 608.5L494.7 607.8M494.4 617.7L496.8 617.4M494.7 619.5L497.0 619.1M494.8 621.2L497.2 620.9M495.0 622.9L497.4 622.7M494.3 639.4L496.7 639.8M494.0 641.5L496.4 641.8M493.7 643.5L496.0 643.9M493.3 645.5L495.7 645.9M491.8 656.1L494.2 656.3M491.6 659.2L494.0 659.3M491.6 662.1L494.0 662.1M491.6 664.7L494.0 664.7" stroke="#f4e27a" stroke-width="0.75" fill="none"/>
<path d="M478.7 567.7L481.0 567.0M479.4 570.4L481.8 569.8M480.2 573.5L482.5 572.9M481.0 576.8L483.4 576.3M493.0 610.5L495.3 609.8M493.4 612.4L495.8 611.8M493.8 614.2L496.2 613.7M494.2 616.0L496.5 615.5M493.0 647.4L495.3 647.8M492.7 649.3L495.0 649.7M492.4 651.2L494.7 651.5M492.1 652.9L494.5 653.2" stroke="#8cd8ec" stroke-width="0.75" fill="none"/>
<path d="M483.7 585.8L485.9 585.1M484.3 587.7L486.6 586.9M485.1 589.7L487.3 588.8M485.9 591.7L488.1 590.8M495.1 624.6L497.5 624.4M495.1 626.3L497.5 626.2M495.1 628.0L497.5 628.0M495.1 629.8L497.5 629.8M491.6 667.0L494.0 667.0M491.6 668.8L494.0 668.8" stroke="#9cb6ec" stroke-width="0.75" fill="none"/>
<path d="M486.7 593.8L489.0 592.9M487.6 595.9L489.8 595.0M488.5 598.0L490.7 597.1M489.4 600.2L491.6 599.3M495.1 631.6L497.5 631.7M495.0 633.5L497.4 633.6M494.9 635.4L497.2 635.6M494.6 637.4L497.0 637.7" stroke="#b4e49a" stroke-width="0.75" fill="none"/>
<path d="M475.4 557.3L475.5 557.7L475.7 558.1L475.9 558.7L476.1 559.3L476.3 559.9L476.5 560.6L476.8 561.4L477.1 562.3L477.4 563.2L477.7 564.2L478.0 565.3L478.4 566.4L478.7 567.7L479.1 569.0L479.4 570.4L479.8 571.9L480.2 573.5L480.6 575.2L481.0 576.8L481.5 578.6L482.0 580.4L482.5 582.2L483.1 584.0L483.7 585.8L484.3 587.7L485.1 589.7L485.9 591.7L486.7 593.8L487.6 595.9L488.5 598.0L489.4 600.2L490.3 602.3L491.1 604.4L491.8 606.5L492.5 608.5L493.0 610.5L493.4 612.4L493.8 614.2L494.2 616.0L494.4 617.7L494.7 619.5L494.8 621.2L495.0 622.9L495.1 624.6L495.1 626.3L495.1 628.0L495.1 629.8L495.1 631.6L495.0 633.5L494.9 635.4L494.6 637.4L494.3 639.4L494.0 641.5L493.7 643.5L493.3 645.5L493.0 647.4L492.7 649.3L492.4 651.2L492.1 652.9L491.9 654.5L491.8 656.1L491.7 657.7L491.6 659.2L491.6 660.7L491.6 662.1L491.6 663.5L491.6 664.7L491.6 665.9L491.6 667.0L491.6 668.0L491.6 668.8L491.6 669.5" stroke="url(#gBlueCy)" stroke-width="1.15" fill="none" stroke-linecap="round"/>
<rect x="472.1" y="554.0" width="6.6" height="6.6" rx="1.8" fill="#df0d12" transform="rotate(40 475.4 557.3)"/>
<path d="M481.6 715.4L483.9 714.7M482.1 717.3L484.4 716.6M483.0 719.7L485.2 718.9M483.7 721.5L485.9 720.6M489.0 733.6L491.2 732.6M490.2 736.5L492.4 735.5M491.5 739.5L493.7 738.6M492.2 741.1L494.4 740.2M498.3 756.7L500.6 756.1M498.7 758.5L501.0 757.9M499.0 760.2L501.4 759.7M499.3 761.9L501.7 761.5M500.2 770.5L502.6 770.4M500.2 772.3L502.6 772.2M500.3 774.1L502.7 774.1M500.4 776.0L502.8 775.9M499.6 796.0L502.0 796.2M499.5 798.0L501.9 798.2M499.3 799.8L501.7 800.0M499.2 802.6L501.6 802.7" stroke="#f4e27a" stroke-width="0.75" fill="none"/>
<path d="M484.5 723.5L486.7 722.6M485.5 725.8L487.7 724.8M486.6 728.2L488.8 727.2M487.7 730.8L489.9 729.9M499.6 763.6L501.9 763.3M499.8 765.3L502.1 765.0M499.9 767.0L502.3 766.8M500.1 768.8L502.4 768.6" stroke="#8cd8ec" stroke-width="0.75" fill="none"/>
<path d="M493.0 742.8L495.2 741.8M493.7 744.5L495.9 743.5M494.5 746.2L496.7 745.3M495.2 748.0L497.5 747.0M500.4 777.9L502.8 777.8M500.4 779.9L502.8 779.9M500.4 782.1L502.8 782.1M500.3 784.4L502.7 784.5" stroke="#9cb6ec" stroke-width="0.75" fill="none"/>
<path d="M496.0 749.7L498.2 748.8M496.6 751.5L498.9 750.6M497.3 753.2L499.5 752.5M497.8 755.0L500.1 754.3M500.2 786.8L502.6 786.9M500.1 789.2L502.5 789.3M499.9 791.5L502.3 791.7M499.8 793.8L502.2 794.0" stroke="#b4e49a" stroke-width="0.75" fill="none"/>
<path d="M481.0 713.6L481.1 713.9L481.3 714.3L481.4 714.8L481.6 715.4L481.7 716.0L481.9 716.6L482.1 717.3L482.4 718.0L482.7 718.8L483.0 719.7L483.3 720.6L483.7 721.5L484.1 722.5L484.5 723.5L485.0 724.6L485.5 725.8L486.0 727.0L486.6 728.2L487.1 729.5L487.7 730.8L488.3 732.2L489.0 733.6L489.6 735.0L490.2 736.5L490.8 738.0L491.5 739.5L492.2 741.1L493.0 742.8L493.7 744.5L494.5 746.2L495.2 748.0L496.0 749.7L496.6 751.5L497.3 753.2L497.8 755.0L498.3 756.7L498.7 758.5L499.0 760.2L499.3 761.9L499.6 763.6L499.8 765.3L499.9 767.0L500.1 768.8L500.2 770.5L500.2 772.3L500.3 774.1L500.4 776.0L500.4 777.9L500.4 779.9L500.4 782.1L500.3 784.4L500.2 786.8L500.1 789.2L499.9 791.5L499.8 793.8L499.6 796.0L499.5 798.0L499.3 799.8L499.2 801.3L499.2 802.6" stroke="url(#gBlueCy)" stroke-width="1.15" fill="none" stroke-linecap="round"/>
<rect x="478.2" y="710.8" width="5.6" height="5.6" rx="1.5" fill="#df0d12" transform="rotate(40 481.0 713.6)"/>
<path d="M549.4 617.9L544.4 617.1M548.9 620.8L543.8 620.2M548.2 624.3L543.1 623.8M547.6 628.0L542.5 627.7M546.9 631.7L542.0 631.6M546.2 635.2L541.8 635.2M545.5 638.4L542.0 638.5M544.8 641.7L542.4 641.8M544.1 645.1L543.0 645.1M543.3 648.3L543.6 648.4M542.5 651.5L544.1 651.5M541.8 654.5L544.4 654.5M541.0 657.4L544.5 657.4M540.2 660.2L544.4 660.2M539.4 662.9L544.2 662.9M538.6 665.5L544.0 665.4M537.9 668.0L543.8 667.9M537.4 670.4L543.6 670.4M537.0 672.8L543.4 672.9M536.8 675.2L543.2 675.5M536.7 677.6L543.1 678.0M536.6 679.7L542.9 680.3M536.6 681.4L542.8 682.2" stroke="#e6e08a" stroke-width="0.6" fill="none"/>
<path d="M549.1 619.3L544.1 618.6M547.9 626.1L542.8 625.7M546.5 633.5L541.9 633.4M545.2 640.1L542.2 640.1M543.7 646.7L543.3 646.8M542.2 653.0L544.3 653.0M540.6 658.8L544.5 658.8M539.0 664.2L544.1 664.2M537.6 669.2L543.7 669.2M536.9 674.0L543.3 674.2M536.6 678.6L543.0 679.2M536.5 682.1L542.7 683.0" stroke="#a8dcc8" stroke-width="0.6" fill="none"/>
<path d="M549.7 615.8L549.6 616.7L549.4 617.9L549.1 619.3L548.9 620.8L548.6 622.5L548.2 624.3L547.9 626.1L547.6 628.0L547.2 629.9L546.9 631.7L546.5 633.5L546.2 635.2L545.9 636.8L545.5 638.4L545.2 640.1L544.8 641.7L544.4 643.4L544.1 645.1L543.7 646.7L543.3 648.3L542.9 649.9L542.5 651.5L542.2 653.0L541.8 654.5L541.4 656.0L541.0 657.4L540.6 658.8L540.2 660.2L539.8 661.6L539.4 662.9L539.0 664.2L538.6 665.5L538.3 666.8L537.9 668.0L537.6 669.2L537.4 670.4L537.2 671.6L537.0 672.8L536.9 674.0L536.8 675.2L536.7 676.4L536.7 677.6L536.6 678.6L536.6 679.7L536.6 680.6L536.6 681.4L536.5 682.1L536.5 682.7" stroke="#d2527f" stroke-width="1" fill="none"/>
<path d="M544.8 614.9L544.6 615.9L544.4 617.1L544.1 618.6L543.8 620.2L543.5 621.9L543.1 623.8L542.8 625.7L542.5 627.7L542.2 629.7L542.0 631.6L541.9 633.4L541.8 635.2L541.8 636.8L542.0 638.5L542.2 640.1L542.4 641.8L542.7 643.5L543.0 645.1L543.3 646.8L543.6 648.4L543.9 650.0L544.1 651.5L544.3 653.0L544.4 654.5L544.5 656.0L544.5 657.4L544.5 658.8L544.4 660.2L544.3 661.5L544.2 662.9L544.1 664.2L544.0 665.4L543.9 666.7L543.8 667.9L543.7 669.2L543.6 670.4L543.5 671.6L543.4 672.9L543.3 674.2L543.2 675.5L543.2 676.8L543.1 678.0L543.0 679.2L542.9 680.3L542.8 681.3L542.8 682.2L542.7 683.0L542.7 683.6" stroke="#e08aa0" stroke-width="1" fill="none"/>
<rect x="548.2" y="610.7" width="4.8" height="4.8" rx="1.4" fill="#d40d12" transform="rotate(30 550.6 613.1)"/>
<path d="M567.5 655.8L570.5 656.6M567.7 658.9L571.3 659.5M567.9 662.5L572.2 662.9M568.2 666.3L573.1 666.6M568.6 670.3L573.9 670.4M569.1 673.9L574.4 673.9M569.8 677.5L574.6 677.4M570.6 681.2L574.7 681.1M571.5 684.9L574.6 684.8M572.5 688.5L574.5 688.5M573.5 691.9L574.4 691.9M574.4 695.1L574.4 695.1M575.3 697.8L574.5 697.8M576.3 700.3L574.6 700.2M577.3 702.5L574.7 702.4M578.2 704.7L574.8 704.6M579.0 706.8L575.0 706.8M579.7 709.2L575.3 709.2M580.2 711.8L575.7 711.9M580.6 714.6L576.1 714.9M580.9 717.5L576.7 718.0M581.1 720.2L577.2 720.8M581.3 722.5L577.6 723.3" stroke="#e6e08a" stroke-width="0.6" fill="none"/>
<path d="M567.6 657.3L570.9 658.0M568.0 664.4L572.7 664.7M568.8 672.1L574.2 672.2M570.2 679.3L574.7 679.2M572.0 686.7L574.6 686.7M574.0 693.5L574.4 693.5M575.8 699.1L574.5 699.0M577.7 703.6L574.7 703.5M579.4 708.0L575.1 707.9M580.4 713.2L575.9 713.4M581.0 718.9L576.9 719.4M581.4 723.4L577.8 724.2" stroke="#a8dcc8" stroke-width="0.6" fill="none"/>
<path d="M567.4 653.7L567.4 654.6L567.5 655.8L567.6 657.3L567.7 658.9L567.8 660.6L567.9 662.5L568.0 664.4L568.2 666.3L568.4 668.3L568.6 670.3L568.8 672.1L569.1 673.9L569.4 675.7L569.8 677.5L570.2 679.3L570.6 681.2L571.1 683.0L571.5 684.9L572.0 686.7L572.5 688.5L573.0 690.3L573.5 691.9L574.0 693.5L574.4 695.1L574.9 696.5L575.3 697.8L575.8 699.1L576.3 700.3L576.8 701.4L577.3 702.5L577.7 703.6L578.2 704.7L578.6 705.7L579.0 706.8L579.4 708.0L579.7 709.2L580.0 710.4L580.2 711.8L580.4 713.2L580.6 714.6L580.8 716.1L580.9 717.5L581.0 718.9L581.1 720.2L581.2 721.4L581.3 722.5L581.4 723.4L581.5 724.1" stroke="#3fa243" stroke-width="1" fill="none"/>
<path d="M570.0 654.5L570.2 655.5L570.5 656.6L570.9 658.0L571.3 659.5L571.7 661.1L572.2 662.9L572.7 664.7L573.1 666.6L573.5 668.5L573.9 670.4L574.2 672.2L574.4 673.9L574.6 675.6L574.6 677.4L574.7 679.2L574.7 681.1L574.7 683.0L574.6 684.8L574.6 686.7L574.5 688.5L574.4 690.2L574.4 691.9L574.4 693.5L574.4 695.1L574.4 696.5L574.5 697.8L574.5 699.0L574.6 700.2L574.6 701.3L574.7 702.4L574.7 703.5L574.8 704.6L574.9 705.7L575.0 706.8L575.1 707.9L575.3 709.2L575.5 710.5L575.7 711.9L575.9 713.4L576.1 714.9L576.4 716.4L576.7 718.0L576.9 719.4L577.2 720.8L577.4 722.1L577.6 723.3L577.8 724.2L577.9 725.0" stroke="#6ab86a" stroke-width="1" fill="none"/>
<rect x="568.0" y="648.3" width="4.8" height="4.8" rx="1.4" fill="#d40d12" transform="rotate(30 570.4 650.7)"/>
<path d="M542.1 711.8L545.2 710.5M542.4 714.1L546.3 713.4M542.9 716.9L547.6 717.0M543.4 720.0L549.0 720.8M544.2 723.3L550.3 724.8M545.3 726.8L551.5 728.5M546.8 730.5L552.5 732.3M548.7 734.7L553.5 736.2M550.7 739.2L554.4 740.3M552.9 743.6L555.3 744.2M554.9 747.8L556.1 748.0M556.8 751.5L556.8 751.5M558.5 754.7L557.4 754.5M560.1 757.6L557.8 757.4M561.7 760.2L558.2 760.0M563.2 762.7L558.5 762.5M564.5 765.0L558.9 765.0M565.6 767.3L559.4 767.3M566.4 769.6L560.1 769.7M567.0 771.9L560.9 772.1M567.5 774.0L561.8 774.5M567.8 776.0L562.6 776.6M568.0 777.6L563.3 778.3" stroke="#e6e08a" stroke-width="0.6" fill="none"/>
<path d="M542.3 712.9L545.8 711.9M543.1 718.4L548.3 718.9M544.7 725.1L550.9 726.7M547.7 732.6L553.0 734.3M551.8 741.4L554.9 742.3M555.9 749.7L556.4 749.8M559.3 756.1L557.6 756.0M562.5 761.5L558.3 761.3M565.1 766.2L559.2 766.1M566.7 770.8L560.5 770.9M567.6 775.0L562.2 775.6M568.1 778.2L563.6 779.1" stroke="#a8dcc8" stroke-width="0.6" fill="none"/>
<path d="M541.8 710.0L541.9 710.8L542.1 711.8L542.3 712.9L542.4 714.1L542.6 715.4L542.9 716.9L543.1 718.4L543.4 720.0L543.8 721.6L544.2 723.3L544.7 725.1L545.3 726.8L546.0 728.6L546.8 730.5L547.7 732.6L548.7 734.7L549.7 736.9L550.7 739.2L551.8 741.4L552.9 743.6L553.9 745.7L554.9 747.8L555.9 749.7L556.8 751.5L557.6 753.1L558.5 754.7L559.3 756.1L560.1 757.6L561.0 758.9L561.7 760.2L562.5 761.5L563.2 762.7L563.9 763.9L564.5 765.0L565.1 766.2L565.6 767.3L566.0 768.5L566.4 769.6L566.7 770.8L567.0 771.9L567.3 773.0L567.5 774.0L567.6 775.0L567.8 776.0L567.9 776.8L568.0 777.6L568.1 778.2L568.2 778.8" stroke="#5a86d4" stroke-width="1" fill="none"/>
<path d="M544.4 708.3L544.8 709.3L545.2 710.5L545.8 711.9L546.3 713.4L547.0 715.2L547.6 717.0L548.3 718.9L549.0 720.8L549.7 722.8L550.3 724.8L550.9 726.7L551.5 728.5L552.0 730.4L552.5 732.3L553.0 734.3L553.5 736.2L554.0 738.3L554.4 740.3L554.9 742.3L555.3 744.2L555.7 746.2L556.1 748.0L556.4 749.8L556.8 751.5L557.1 753.0L557.4 754.5L557.6 756.0L557.8 757.4L558.0 758.7L558.2 760.0L558.3 761.3L558.5 762.5L558.7 763.8L558.9 765.0L559.2 766.1L559.4 767.3L559.7 768.5L560.1 769.7L560.5 770.9L560.9 772.1L561.4 773.3L561.8 774.5L562.2 775.6L562.6 776.6L563.0 777.5L563.3 778.3L563.6 779.1L563.8 779.6" stroke="#68c8d8" stroke-width="1" fill="none"/>
<rect x="537.1" y="704.1" width="4.8" height="4.8" rx="1.4" fill="#d40d12" transform="rotate(30 539.5 706.5)"/>
</g>
<text x="511.3" y="695.8" font-size="21.5" text-anchor="middle" fill="#111">&amp;</text>
<path d="M361 680.5H246" stroke="url(#gArrH)" stroke-width="2.2" fill="none"/>
<path d="M239.6 680.5L247.6 676.9L247.6 684.1Z" fill="#000"/>
<text x="302.7" y="633.0" font-size="22" text-anchor="middle" fill="#111">Load chip by</text>
<text x="302.7" y="659.2" font-size="22" text-anchor="middle" fill="#111">pipetting</text>
<text x="168.6" y="713.6" font-size="22" font-style="italic" fill="#111">1 h</text>
<text x="11.8" y="587.8" font-size="21.8" fill="#111">Incubation</text>
<g id="chip">
<polygon points="142.7,600.2 178.7,580.6 227.3,602.0 227.3,612.8 191.9,632.0 142.7,610.4" fill="#4a4a5e"/>
<polygon points="6.6,670.3 137.9,596.6 143.3,599.6 143.3,610.4 191.9,630.8 227.3,611.6 227.3,613.4 190.7,636.8 60.0,713.5 7.2,685.9" fill="#2b5be8"/>
<polygon points="18.0,679.9 145.1,607.4 177.5,589.4 223.1,608.6 191.9,625.4 185.3,619.4 56.4,692.5 55.2,699.1" fill="#bf9a3a"/>
<polygon points="143.9,602.0 178.7,582.2 225.5,602.6 223.1,608.6 177.5,589.4 145.1,607.4" fill="#3e3e52"/>
<polygon points="26.2,676.4 40.7,668.1 52.9,673.9 38.5,682.1" fill="#e2cb24"/>
<polygon points="26.2,676.4 40.7,668.1 43.1,669.3 28.7,677.5" fill="#a8862c" opacity="0.55"/>
<polygon points="46.3,664.9 60.7,656.6 73.0,662.4 58.5,670.7" fill="#e2cb24"/>
<polygon points="46.3,664.9 60.7,656.6 63.2,657.8 48.7,666.1" fill="#a8862c" opacity="0.55"/>
<polygon points="66.3,653.4 80.8,645.2 93.0,650.9 78.6,659.2" fill="#e2cb24"/>
<polygon points="66.3,653.4 80.8,645.2 83.2,646.3 68.8,654.6" fill="#a8862c" opacity="0.55"/>
<polygon points="86.4,641.9 100.8,633.7 113.0,639.4 98.6,647.7" fill="#e2cb24"/>
<polygon points="86.4,641.9 100.8,633.7 103.3,634.8 88.8,643.1" fill="#a8862c" opacity="0.55"/>
<polygon points="106.4,630.5 120.9,622.2 133.1,628.0 118.7,636.2" fill="#e2cb24"/>
<polygon points="106.4,630.5 120.9,622.2 123.3,623.4 108.9,631.6" fill="#a8862c" opacity="0.55"/>
<polygon points="126.5,619.0 140.9,610.7 153.1,616.5 138.7,624.7" fill="#e2cb24"/>
<polygon points="126.5,619.0 140.9,610.7 143.4,611.9 128.9,620.1" fill="#a8862c" opacity="0.55"/>
<polygon points="146.5,607.5 160.9,599.2 173.2,605.0 158.7,613.3" fill="#e2cb24"/>
<polygon points="146.5,607.5 160.9,599.2 163.4,600.4 149.0,608.7" fill="#a8862c" opacity="0.55"/>
<polygon points="166.6,596.0 181.0,587.8 193.2,593.5 178.8,601.8" fill="#e2cb24"/>
<polygon points="166.6,596.0 181.0,587.8 183.4,588.9 169.0,597.2" fill="#a8862c" opacity="0.55"/>
<polygon points="46.6,686.0 61.1,677.7 73.3,683.5 58.9,691.7" fill="#e2cb24"/>
<polygon points="46.6,686.0 61.1,677.7 63.5,678.9 49.1,687.1" fill="#a8862c" opacity="0.55"/>
<polygon points="66.7,674.5 81.1,666.2 93.3,672.0 78.9,680.3" fill="#e2cb24"/>
<polygon points="66.7,674.5 81.1,666.2 83.6,667.4 69.1,675.7" fill="#a8862c" opacity="0.55"/>
<polygon points="86.7,663.0 101.2,654.8 113.4,660.5 99.0,668.8" fill="#e2cb24"/>
<polygon points="86.7,663.0 101.2,654.8 103.6,655.9 89.2,664.2" fill="#a8862c" opacity="0.55"/>
<polygon points="106.8,651.5 121.2,643.3 133.4,649.0 119.0,657.3" fill="#e2cb24"/>
<polygon points="106.8,651.5 121.2,643.3 123.6,644.4 109.2,652.7" fill="#a8862c" opacity="0.55"/>
<polygon points="126.8,640.1 141.2,631.8 153.5,637.6 139.0,645.8" fill="#e2cb24"/>
<polygon points="126.8,640.1 141.2,631.8 143.7,633.0 129.3,641.2" fill="#a8862c" opacity="0.55"/>
<polygon points="146.9,628.6 161.3,620.3 173.5,626.1 159.1,634.3" fill="#e2cb24"/>
<polygon points="146.9,628.6 161.3,620.3 163.7,621.5 149.3,629.7" fill="#a8862c" opacity="0.55"/>
<polygon points="166.9,617.1 181.3,608.8 193.6,614.6 179.1,622.9" fill="#e2cb24"/>
<polygon points="166.9,617.1 181.3,608.8 183.8,610.0 169.4,618.3" fill="#a8862c" opacity="0.55"/>
<polygon points="187.0,605.6 201.4,597.4 213.6,603.1 199.2,611.4" fill="#e2cb24"/>
<polygon points="187.0,605.6 201.4,597.4 203.8,598.5 189.4,606.8" fill="#a8862c" opacity="0.55"/>
<polygon points="6.6,670.3 18.0,675.7 18.0,681.1 55.2,699.1 60.0,693.1 60.0,713.5 7.2,685.9" fill="#2a55e0"/>
<polygon points="18.0,678.1 142.7,606.2 143.3,611.0 39.6,668.5 18.0,680.9" fill="#3b3f86" opacity="0.75"/>
<polygon points="6.6,670.3 137.9,596.6 143.3,600.2 142.7,606.2 18.0,678.1" fill="#2c5cea"/>
<polygon points="56.4,692.5 184.7,618.5 190.7,620.6 60.0,693.7" fill="#3a68f2"/>
<polygon points="60.0,693.4 190.7,620.2 190.7,636.8 60.0,713.5" fill="#2a58e6"/>
<polygon points="190.7,627.2 227.3,609.2 227.3,613.4 190.7,636.8" fill="#2a56e0"/>
<polygon points="191.9,585.8 196.7,583.4 209.3,588.8 209.3,597.2 204.5,599.6 191.9,594.2" fill="#2b5be8"/>
</g>
<path d="M46 767V976.6" stroke="url(#gArrL)" stroke-width="1.9" fill="none"/>
<path d="M45.1 976.6H348" stroke="url(#gArrL2)" stroke-width="1.9" fill="none"/>
<path d="M354.5 976.6L346.3 973L346.3 980.2Z" fill="#000"/>
<text x="87.2" y="953.0" font-size="22" fill="#111">SA-IRDye800 &amp; Imaging</text>
<rect x="390.9" y="847.6" width="191.4" height="199.1" fill="#fff" stroke="#dfe1ea" stroke-width="1.2"/>
<ellipse cx="412.9" cy="868.3" rx="7.1" ry="6.3" fill="#60aa40"/>
<ellipse cx="442.5" cy="868.3" rx="7.1" ry="6.3" fill="#60aa40"/>
<ellipse cx="472.4" cy="868.3" rx="7.1" ry="6.3" fill="#60aa40"/>
<ellipse cx="502.4" cy="868.3" rx="7.1" ry="6.3" fill="#60aa40"/>
<ellipse cx="532" cy="868.3" rx="7.1" ry="6.3" fill="#60aa40"/>
<ellipse cx="562" cy="868.3" rx="7.1" ry="6.3" fill="#60aa40"/>
<ellipse cx="412.9" cy="895.3" rx="6.6" ry="6" fill="#e2e2e2"/>
<ellipse cx="442.5" cy="895.3" rx="6.6" ry="6" fill="#e2e2e2"/>
<ellipse cx="472.4" cy="895.3" rx="6.6" ry="6" fill="#e2e2e2"/>
<ellipse cx="502.4" cy="895.3" rx="6.6" ry="6" fill="#e2e2e2"/>
<ellipse cx="532" cy="895.3" rx="6.6" ry="6" fill="#e2e2e2"/>
<ellipse cx="562" cy="895.3" rx="6.6" ry="6" fill="#e2e2e2"/>
<ellipse cx="412.9" cy="922" rx="6.6" ry="6" fill="#e2e2e2"/>
<ellipse cx="442.5" cy="922" rx="6.6" ry="6" fill="#e2e2e2"/>
<ellipse cx="472.4" cy="922" rx="6.6" ry="6" fill="#e2e2e2"/>
<ellipse cx="502.4" cy="922" rx="6.6" ry="6" fill="#e2e2e2"/>
<ellipse cx="532" cy="922" rx="6.6" ry="6" fill="#e2e2e2"/>
<ellipse cx="562" cy="922" rx="6.6" ry="6" fill="#e2e2e2"/>
<ellipse cx="412.9" cy="949" rx="6.6" ry="6" fill="#e2e2e2"/>
<ellipse cx="442.5" cy="949" rx="6.6" ry="6" fill="#e2e2e2"/>
<ellipse cx="472.4" cy="949" rx="6.6" ry="6" fill="#e2e2e2"/>
<ellipse cx="502.4" cy="949" rx="7.1" ry="6.3" fill="#60aa40"/>
<ellipse cx="532" cy="949" rx="7.1" ry="6.3" fill="#60aa40"/>
<ellipse cx="562" cy="949" rx="7.1" ry="6.3" fill="#60aa40"/>
<ellipse cx="412.9" cy="975.9" rx="6.6" ry="6" fill="#e2e2e2"/>
<ellipse cx="442.5" cy="975.9" rx="6.6" ry="6" fill="#e2e2e2"/>
<ellipse cx="472.4" cy="975.9" rx="6.6" ry="6" fill="#e2e2e2"/>
<ellipse cx="502.4" cy="975.9" rx="6.6" ry="6" fill="#e2e2e2"/>
<ellipse cx="532" cy="975.9" rx="6.6" ry="6" fill="#e2e2e2"/>
<ellipse cx="562" cy="975.9" rx="6.6" ry="6" fill="#e2e2e2"/>
<ellipse cx="412.9" cy="1002.6" rx="6.6" ry="6" fill="#e2e2e2"/>
<ellipse cx="442.5" cy="1002.6" rx="6.6" ry="6" fill="#e2e2e2"/>
<ellipse cx="472.4" cy="1002.6" rx="6.6" ry="6" fill="#e2e2e2"/>
<ellipse cx="502.4" cy="1002.6" rx="6.6" ry="6" fill="#e2e2e2"/>
<ellipse cx="532" cy="1002.6" rx="6.6" ry="6" fill="#e2e2e2"/>
<ellipse cx="562" cy="1002.6" rx="6.6" ry="6" fill="#e2e2e2"/>
<ellipse cx="412.9" cy="1027.6" rx="7.1" ry="6.3" fill="#60aa40"/>
<ellipse cx="442.5" cy="1027.6" rx="7.1" ry="6.3" fill="#60aa40"/>
<ellipse cx="472.4" cy="1027.6" rx="7.1" ry="6.3" fill="#60aa40"/>
<ellipse cx="502.4" cy="1027.6" rx="6.6" ry="6" fill="#e2e2e2"/>
<ellipse cx="532" cy="1027.6" rx="6.6" ry="6" fill="#e2e2e2"/>
<ellipse cx="562" cy="1027.6" rx="6.6" ry="6" fill="#e2e2e2"/>
<text x="556.0" y="1079.0" font-size="22" font-style="italic" fill="#111">30 min</text>
</g>
<g id="panel-b">
<text x="647.0" y="23.0" font-size="31" font-weight="bold" fill="#000">b</text>
<path d="M812.0 68.7V53.7H1533.6V68.7M860.7 88.1V73.1H1533.6V88.1M932.4 107.3V92.3H1533.6V107.3M991.0 126.4V111.4H1533.6V126.4M1046.8 145.5V130.5H1533.6V145.5M1106.4 164.5V149.5H1533.6V164.5M1168.5 183.1V168.1H1533.6V183.1M1229.1 203.2V188.2H1533.6V203.2M1289.8 222.3V207.3H1533.6V222.3M1351.6 241.3V226.3H1533.6V241.3M1412.7 259.7V244.7H1533.6V259.7M1472.9 278.6V263.6H1533.6V278.6" stroke="#666" stroke-width="1.2" fill="none"/>
<text x="1160.1" y="53.5" font-size="18" text-anchor="middle" font-weight="bold" fill="#000" letter-spacing="1.2">****</text>
<text x="1191.0" y="73.8" font-size="18" text-anchor="middle" font-weight="bold" fill="#000" letter-spacing="1.2">****</text>
<text x="1222.1" y="92.9" font-size="18" text-anchor="middle" font-weight="bold" fill="#000" letter-spacing="1.2">**</text>
<text x="1253.3" y="112.1" font-size="18" text-anchor="middle" font-weight="bold" fill="#000" letter-spacing="1.2">****</text>
<text x="1284.4" y="131.2" font-size="18" text-anchor="middle" font-weight="bold" fill="#000" letter-spacing="1.2">***</text>
<text x="1315.3" y="150.3" font-size="18" text-anchor="middle" font-weight="bold" fill="#000" letter-spacing="1.2">***</text>
<text x="1346.2" y="169.2" font-size="18" text-anchor="middle" font-weight="bold" fill="#000" letter-spacing="1.2">****</text>
<text x="1377.1" y="188.6" font-size="18" text-anchor="middle" font-weight="bold" fill="#000" letter-spacing="1.2">*</text>
<text x="1408.2" y="208.0" font-size="18" text-anchor="middle" font-weight="bold" fill="#000" letter-spacing="1.2">****</text>
<text x="1439.1" y="226.9" font-size="18" text-anchor="middle" font-weight="bold" fill="#000" letter-spacing="1.2">**</text>
<text x="1470.3" y="245.8" font-size="18" text-anchor="middle" font-weight="bold" fill="#000" letter-spacing="1.2">****</text>
<text x="1501.4" y="265.2" font-size="18" text-anchor="middle" font-weight="bold" fill="#000" letter-spacing="1.2">***</text>
<text x="1237.9" y="85.8" font-size="11.4" fill="#222"><tspan font-style="italic">p</tspan> = 1.1 × 10<tspan font-size="7.5" dy="-3.8">-3</tspan></text>
<text x="1389.4" y="181.5" font-size="11.4" fill="#222"><tspan font-style="italic">p</tspan> = 1.6 × 10<tspan font-size="7.5" dy="-3.8">-2</tspan></text>
<text x="1455.8" y="220.2" font-size="11.4" fill="#222"><tspan font-style="italic">p</tspan> = 5.5 × 10<tspan font-size="7.5" dy="-3.8">-3</tspan></text>
<rect x="794.4" y="213.9" width="36.8" height="29.5" fill="#f6cfd0"/>
<rect x="794.4" y="243.4" width="36.8" height="50.1" fill="#f18d8f"/>
<rect x="794.4" y="293.5" width="36.8" height="166.0" fill="#ee4d55"/>
<rect x="854.4" y="373.2" width="36.8" height="28.2" fill="#f6cfd0"/>
<rect x="854.4" y="401.4" width="36.8" height="13.3" fill="#f18d8f"/>
<rect x="854.4" y="414.7" width="36.8" height="44.8" fill="#ee4d55"/>
<rect x="914.3" y="313.0" width="36.8" height="13.9" fill="#f6cfd0"/>
<rect x="914.3" y="326.9" width="36.8" height="23.5" fill="#f18d8f"/>
<rect x="914.3" y="350.4" width="36.8" height="109.1" fill="#ee4d55"/>
<rect x="974.3" y="349.5" width="36.8" height="13.4" fill="#f6cfd0"/>
<rect x="974.3" y="362.9" width="36.8" height="34.8" fill="#f18d8f"/>
<rect x="974.3" y="397.7" width="36.8" height="61.8" fill="#ee4d55"/>
<rect x="1034.2" y="399.0" width="36.8" height="2.4" fill="#f6cfd0"/>
<rect x="1034.2" y="401.4" width="36.8" height="14.3" fill="#f18d8f"/>
<rect x="1034.2" y="415.7" width="36.8" height="43.8" fill="#ee4d55"/>
<rect x="1094.2" y="255.4" width="36.8" height="5.3" fill="#f6cfd0"/>
<rect x="1094.2" y="260.7" width="36.8" height="63.0" fill="#f18d8f"/>
<rect x="1094.2" y="323.7" width="36.8" height="135.8" fill="#ee4d55"/>
<rect x="1154.2" y="328.3" width="36.8" height="36.0" fill="#f6cfd0"/>
<rect x="1154.2" y="364.3" width="36.8" height="55.5" fill="#f18d8f"/>
<rect x="1154.2" y="419.8" width="36.8" height="39.7" fill="#ee4d55"/>
<rect x="1214.1" y="374.4" width="36.8" height="13.8" fill="#f6cfd0"/>
<rect x="1214.1" y="388.2" width="36.8" height="27.9" fill="#f18d8f"/>
<rect x="1214.1" y="416.1" width="36.8" height="43.4" fill="#ee4d55"/>
<rect x="1274.1" y="357.3" width="36.8" height="22.2" fill="#f6cfd0"/>
<rect x="1274.1" y="379.5" width="36.8" height="7.6" fill="#f18d8f"/>
<rect x="1274.1" y="387.1" width="36.8" height="72.4" fill="#ee4d55"/>
<rect x="1334.0" y="401.4" width="36.8" height="11.0" fill="#f6cfd0"/>
<rect x="1334.0" y="412.4" width="36.8" height="5.4" fill="#f18d8f"/>
<rect x="1334.0" y="417.8" width="36.8" height="41.7" fill="#ee4d55"/>
<rect x="1394.0" y="278.2" width="36.8" height="51.9" fill="#f6cfd0"/>
<rect x="1394.0" y="330.1" width="36.8" height="63.0" fill="#f18d8f"/>
<rect x="1394.0" y="393.1" width="36.8" height="66.4" fill="#ee4d55"/>
<rect x="1454.0" y="340.0" width="36.8" height="16.2" fill="#f6cfd0"/>
<rect x="1454.0" y="356.2" width="36.8" height="33.2" fill="#f18d8f"/>
<rect x="1454.0" y="389.4" width="36.8" height="70.1" fill="#ee4d55"/>
<rect x="1513.9" y="456.9" width="36.8" height="0.7" fill="#f6cfd0"/>
<rect x="1513.9" y="457.6" width="36.8" height="0.7" fill="#f18d8f"/>
<rect x="1513.9" y="458.3" width="36.8" height="1.2" fill="#ee4d55"/>
<path d="M812.8 205.8V221.7M806.8 205.8h12M806.8 221.7h12" stroke="#3a2020" stroke-width="0.9" fill="none"/>
<path d="M812.8 237.0V248.5M806.8 237.0h12M806.8 248.5h12" stroke="#3a2020" stroke-width="0.9" fill="none"/>
<path d="M812.8 272.7V313.3M806.8 272.7h12M806.8 313.3h12" stroke="#3a2020" stroke-width="0.9" fill="none"/>
<path d="M872.8 367.0V379.5M866.8 367.0h12M866.8 379.5h12" stroke="#3a2020" stroke-width="0.9" fill="none"/>
<path d="M872.8 398.4V403.7M866.8 398.4h12M866.8 403.7h12" stroke="#3a2020" stroke-width="0.9" fill="none"/>
<path d="M872.8 403.2V425.8M866.8 403.2h12M866.8 425.8h12" stroke="#3a2020" stroke-width="0.9" fill="none"/>
<path d="M932.7 309.8V316.5M926.7 309.8h12M926.7 316.5h12" stroke="#3a2020" stroke-width="0.9" fill="none"/>
<path d="M932.7 321.4V334.0M926.7 321.4h12M926.7 334.0h12" stroke="#3a2020" stroke-width="0.9" fill="none"/>
<path d="M932.7 331.7V365.6M926.7 331.7h12M926.7 365.6h12" stroke="#3a2020" stroke-width="0.9" fill="none"/>
<path d="M992.7 347.9V351.3M986.7 347.9h12M986.7 351.3h12" stroke="#3a2020" stroke-width="0.9" fill="none"/>
<path d="M992.7 349.0V376.2M986.7 349.0h12M986.7 376.2h12" stroke="#3a2020" stroke-width="0.9" fill="none"/>
<path d="M992.7 383.6V410.6M986.7 383.6h12M986.7 410.6h12" stroke="#3a2020" stroke-width="0.9" fill="none"/>
<path d="M1052.6 391.9V396.5M1046.6 391.9h12M1046.6 396.5h12" stroke="#3a2020" stroke-width="0.9" fill="none"/>
<path d="M1052.6 395.1V411.3M1046.6 395.1h12M1046.6 411.3h12" stroke="#3a2020" stroke-width="0.9" fill="none"/>
<path d="M1052.6 409.9V418.9M1046.6 409.9h12M1046.6 418.9h12" stroke="#3a2020" stroke-width="0.9" fill="none"/>
<path d="M1112.6 248.7V252.6M1106.6 248.7h12M1106.6 252.6h12" stroke="#3a2020" stroke-width="0.9" fill="none"/>
<path d="M1112.6 258.4V271.5M1106.6 258.4h12M1106.6 271.5h12" stroke="#3a2020" stroke-width="0.9" fill="none"/>
<path d="M1112.6 308.2V338.2M1106.6 308.2h12M1106.6 338.2h12" stroke="#3a2020" stroke-width="0.9" fill="none"/>
<path d="M1172.6 324.1V332.4M1166.6 324.1h12M1166.6 332.4h12" stroke="#3a2020" stroke-width="0.9" fill="none"/>
<path d="M1172.6 357.8V369.3M1166.6 357.8h12M1166.6 369.3h12" stroke="#3a2020" stroke-width="0.9" fill="none"/>
<path d="M1172.6 408.3V430.7M1166.6 408.3h12M1166.6 430.7h12" stroke="#3a2020" stroke-width="0.9" fill="none"/>
<path d="M1232.5 364.7V383.6M1226.5 364.7h12M1226.5 383.6h12" stroke="#3a2020" stroke-width="0.9" fill="none"/>
<path d="M1232.5 368.4V408.3M1226.5 368.4h12M1226.5 408.3h12" stroke="#3a2020" stroke-width="0.9" fill="none"/>
<path d="M1232.5 405.5V426.7M1226.5 405.5h12M1226.5 426.7h12" stroke="#3a2020" stroke-width="0.9" fill="none"/>
<path d="M1292.5 350.6V364.5M1286.5 350.6h12M1286.5 364.5h12" stroke="#3a2020" stroke-width="0.9" fill="none"/>
<path d="M1292.5 373.7V384.1M1286.5 373.7h12M1286.5 384.1h12" stroke="#3a2020" stroke-width="0.9" fill="none"/>
<path d="M1292.5 382.2V391.5M1286.5 382.2h12M1286.5 391.5h12" stroke="#3a2020" stroke-width="0.9" fill="none"/>
<path d="M1352.4 396.1V406.7M1346.4 396.1h12M1346.4 406.7h12" stroke="#3a2020" stroke-width="0.9" fill="none"/>
<path d="M1352.4 406.7V417.5M1346.4 406.7h12M1346.4 417.5h12" stroke="#3a2020" stroke-width="0.9" fill="none"/>
<path d="M1352.4 412.4V422.6M1346.4 412.4h12M1346.4 422.6h12" stroke="#3a2020" stroke-width="0.9" fill="none"/>
<path d="M1412.4 267.2V288.8M1406.4 267.2h12M1406.4 288.8h12" stroke="#3a2020" stroke-width="0.9" fill="none"/>
<path d="M1412.4 324.6V334.3M1406.4 324.6h12M1406.4 334.3h12" stroke="#3a2020" stroke-width="0.9" fill="none"/>
<path d="M1412.4 390.5V394.5M1406.4 390.5h12M1406.4 394.5h12" stroke="#3a2020" stroke-width="0.9" fill="none"/>
<path d="M1472.4 329.4V351.3M1466.4 329.4h12M1466.4 351.3h12" stroke="#3a2020" stroke-width="0.9" fill="none"/>
<path d="M1472.4 339.6V371.4M1466.4 339.6h12M1466.4 371.4h12" stroke="#3a2020" stroke-width="0.9" fill="none"/>
<path d="M1472.4 382.9V395.6M1466.4 382.9h12M1466.4 395.6h12" stroke="#3a2020" stroke-width="0.9" fill="none"/>
<path d="M1532.3 455.2V457.8M1528.3 455.2h8M1528.3 457.8h8" stroke="#3a2020" stroke-width="0.9" fill="none"/>
<path d="M782.9 90.5V459.5H1563.5" stroke="#000" stroke-width="2.4" fill="none" stroke-linejoin="miter"/>
<line x1="782.9" y1="91.5" x2="791.5" y2="91.5" stroke="#000" stroke-width="2.2"/>
<line x1="782.9" y1="213.9" x2="791.5" y2="213.9" stroke="#000" stroke-width="2.2"/>
<line x1="782.9" y1="336.3" x2="791.5" y2="336.3" stroke="#000" stroke-width="2.2"/>
<line x1="812.8" y1="459.5" x2="812.8" y2="455.8" stroke="#000" stroke-width="2.2"/>
<line x1="872.8" y1="459.5" x2="872.8" y2="455.8" stroke="#000" stroke-width="2.2"/>
<line x1="932.7" y1="459.5" x2="932.7" y2="455.8" stroke="#000" stroke-width="2.2"/>
<line x1="992.7" y1="459.5" x2="992.7" y2="455.8" stroke="#000" stroke-width="2.2"/>
<line x1="1052.6" y1="459.5" x2="1052.6" y2="455.8" stroke="#000" stroke-width="2.2"/>
<line x1="1112.6" y1="459.5" x2="1112.6" y2="455.8" stroke="#000" stroke-width="2.2"/>
<line x1="1172.6" y1="459.5" x2="1172.6" y2="455.8" stroke="#000" stroke-width="2.2"/>
<line x1="1232.5" y1="459.5" x2="1232.5" y2="455.8" stroke="#000" stroke-width="2.2"/>
<line x1="1292.5" y1="459.5" x2="1292.5" y2="455.8" stroke="#000" stroke-width="2.2"/>
<line x1="1352.4" y1="459.5" x2="1352.4" y2="455.8" stroke="#000" stroke-width="2.2"/>
<line x1="1412.4" y1="459.5" x2="1412.4" y2="455.8" stroke="#000" stroke-width="2.2"/>
<line x1="1472.4" y1="459.5" x2="1472.4" y2="455.8" stroke="#000" stroke-width="2.2"/>
<line x1="1532.3" y1="459.5" x2="1532.3" y2="455.8" stroke="#000" stroke-width="2.2"/>
<text x="774.0" y="100.9" font-size="20" text-anchor="end" fill="#111">1,500</text>
<text x="774.0" y="223.3" font-size="20" text-anchor="end" fill="#111">1,000</text>
<text x="774.0" y="345.7" font-size="20" text-anchor="end" fill="#111">500</text>
<text x="774.0" y="468.9" font-size="20" text-anchor="end" fill="#111">0</text>
<text x="813.3" y="484.6" font-size="20" text-anchor="middle" fill="#111">WT</text>
<text x="873.3" y="484.6" font-size="20" text-anchor="middle" fill="#111">α</text>
<text x="933.2" y="484.6" font-size="20" text-anchor="middle" fill="#111">β</text>
<text x="993.2" y="484.6" font-size="20" text-anchor="middle" fill="#111">γ</text>
<text x="1053.1" y="484.6" font-size="20" text-anchor="middle" fill="#111">δ</text>
<text x="1113.1" y="484.6" font-size="20" text-anchor="middle" fill="#111">δ+</text>
<text x="1173.1" y="484.6" font-size="20" text-anchor="middle" fill="#111">λ</text>
<text x="1233.0" y="484.6" font-size="20" text-anchor="middle" fill="#111">μ</text>
<text font-size="20" fill="#111" text-anchor="end" transform="translate(1302.7 473.5) rotate(-45)">BA.1</text>
<text font-size="20" fill="#111" text-anchor="end" transform="translate(1362.6 473.5) rotate(-45)">BA.2</text>
<text font-size="20" fill="#111" text-anchor="end" transform="translate(1422.6 473.5) rotate(-45)">BA.2.12.1</text>
<text font-size="20" fill="#111" text-anchor="end" transform="translate(1482.6 473.5) rotate(-45)">BA.5</text>
<text font-size="20" fill="#111" text-anchor="end" transform="translate(1542.5 473.5) rotate(-45)">no input</text>
<text x="1137.5" y="527.0" font-size="22.1" text-anchor="middle" fill="#111">Viral particles (1 cp/rxn)</text>
<text x="693.8" y="270.0" font-size="22.1" text-anchor="middle" fill="#111" transform="rotate(-90 693.8 270.0)">Background subtracted fluorescence</text>
<rect x="797.0" y="105.6" width="50.8" height="20.8" fill="#f6cfd0"/>
<text x="860.5" y="125.7" font-size="17.5" fill="#111">L452</text>
<rect x="797.0" y="128.4" width="50.8" height="20.8" fill="#f18d8f"/>
<text x="860.5" y="146.6" font-size="17.5" fill="#111">K417</text>
<rect x="797.0" y="151.7" width="50.8" height="20.8" fill="#ee4d55"/>
<text x="860.5" y="167.4" font-size="17.5" fill="#111">Y144</text>
</g>
<g id="panel-c">
<text x="647.0" y="634.5" font-size="31" font-weight="bold" fill="#000">c</text>
<rect x="831.5" y="955.3" width="13.9" height="53.8" fill="#150d32"/>
<rect x="847.9" y="842.6" width="13.9" height="166.5" fill="#5a0f70"/>
<rect x="864.2" y="694.5" width="13.9" height="314.6" fill="#a02864"/>
<rect x="880.6" y="1008.3" width="13.9" height="0.8" fill="#d9533c"/>
<rect x="896.9" y="969.4" width="13.9" height="39.7" fill="#f7931b"/>
<rect x="913.3" y="1005.4" width="13.9" height="3.7" fill="#f2d84e"/>
<rect x="954.6" y="1001.4" width="13.9" height="7.7" fill="#150d32"/>
<rect x="971.0" y="984.7" width="13.9" height="24.4" fill="#5a0f70"/>
<rect x="987.3" y="909.8" width="13.9" height="99.3" fill="#a02864"/>
<rect x="1003.7" y="1008.4" width="13.9" height="0.7" fill="#d9533c"/>
<rect x="1020.0" y="1002.4" width="13.9" height="6.7" fill="#f7931b"/>
<rect x="1036.4" y="1007.8" width="13.9" height="1.3" fill="#f2d84e"/>
<rect x="1077.7" y="1008.5" width="13.9" height="0.6" fill="#150d32"/>
<rect x="1094.1" y="1007.0" width="13.9" height="2.1" fill="#5a0f70"/>
<rect x="1110.4" y="1000.8" width="13.9" height="8.3" fill="#a02864"/>
<rect x="1143.1" y="1008.4" width="13.9" height="0.7" fill="#f7931b"/>
<rect x="1159.5" y="1008.4" width="13.9" height="0.7" fill="#f2d84e"/>
<rect x="1217.2" y="1008.0" width="13.9" height="1.1" fill="#5a0f70"/>
<rect x="1233.5" y="1006.6" width="13.9" height="2.5" fill="#a02864"/>
<rect x="1340.3" y="1008.4" width="13.9" height="0.7" fill="#5a0f70"/>
<rect x="1356.6" y="1007.6" width="13.9" height="1.5" fill="#a02864"/>
<rect x="860.0" y="777.2" width="22.0" height="7.6" fill="#fff"/>
<rect x="878.1" y="1001.6" width="2.2" height="7.5" fill="#111"/>
<rect x="1001.2" y="1001.6" width="2.2" height="7.5" fill="#111"/>
<rect x="1124.3" y="1003.1" width="2.2" height="6.0" fill="#111"/>
<rect x="1247.4" y="1002.1" width="2.2" height="7.0" fill="#111"/>
<rect x="1370.5" y="1002.1" width="2.2" height="7.0" fill="#111"/>
<rect x="1493.6" y="1002.1" width="2.2" height="7.0" fill="#111"/>
<path d="M838.5 951.1V955.3M835.0 951.1h7M835.0 955.3h7" stroke="#555" stroke-width="0.8" fill="none"/>
<path d="M854.7 831.0V856.4M851.2 831.0h7M851.2 856.4h7" stroke="#555" stroke-width="0.8" fill="none"/>
<path d="M871.2 649.3V739.7M867.7 649.3h7M867.7 739.7h7" stroke="#888" stroke-width="0.8" fill="none"/>
<path d="M903.9 966.6V972.1M900.4 966.6h7M900.4 972.1h7" stroke="#555" stroke-width="0.8" fill="none"/>
<path d="M993.7 897.6V921.1M990.2 897.6h7M990.2 921.1h7" stroke="#555" stroke-width="0.8" fill="none"/>
<path d="M977.2 981.0V987.7M973.7 981.0h7M973.7 987.7h7" stroke="#555" stroke-width="0.8" fill="none"/>
<circle cx="842.2" cy="951.1" r="1.5" fill="#000"/>
<circle cx="858.7" cy="830.4" r="1.5" fill="#000"/>
<circle cx="854.1" cy="840.8" r="1.5" fill="#000"/>
<circle cx="849.5" cy="857.3" r="1.5" fill="#000"/>
<circle cx="874.2" cy="643.5" r="1.5" fill="#000"/>
<circle cx="866.9" cy="693.3" r="1.5" fill="#000"/>
<circle cx="870.6" cy="747.7" r="1.5" fill="#000"/>
<circle cx="899.0" cy="966.9" r="1.5" fill="#000"/>
<circle cx="903.6" cy="967.2" r="1.5" fill="#000"/>
<circle cx="908.1" cy="973.7" r="1.5" fill="#000"/>
<circle cx="993.7" cy="894.9" r="1.5" fill="#000"/>
<circle cx="990.3" cy="912.9" r="1.5" fill="#000"/>
<circle cx="996.7" cy="921.1" r="1.5" fill="#000"/>
<circle cx="972.9" cy="980.7" r="1.5" fill="#000"/>
<circle cx="977.5" cy="986.5" r="1.5" fill="#000"/>
<circle cx="981.1" cy="984.7" r="1.5" fill="#000"/>
<circle cx="956.4" cy="1000.8" r="1.5" fill="#000"/>
<circle cx="961.3" cy="1002.4" r="1.5" fill="#000"/>
<circle cx="965.6" cy="1002.4" r="1.5" fill="#000"/>
<circle cx="1021.8" cy="1003.0" r="1.5" fill="#000"/>
<circle cx="1026.3" cy="1002.1" r="1.5" fill="#000"/>
<circle cx="1030.9" cy="1000.8" r="1.5" fill="#000"/>
<circle cx="915.8" cy="1006.3" r="1.5" fill="#000"/>
<circle cx="920.4" cy="1006.3" r="1.5" fill="#000"/>
<circle cx="924.9" cy="1005.7" r="1.5" fill="#000"/>
<circle cx="1111.8" cy="1000.8" r="1.5" fill="#000"/>
<circle cx="1116.4" cy="1001.8" r="1.5" fill="#000"/>
<circle cx="1121.0" cy="1001.1" r="1.5" fill="#000"/>
<circle cx="1124.1" cy="1002.1" r="1.5" fill="#000"/>
<path d="M834.0 1007.5h1.6M838.4 1007.5h1.6M842.8 1007.5h1.6M850.4 1007.5h1.6M854.8 1007.5h1.6M859.2 1007.5h1.6M866.7 1007.5h1.6M871.1 1007.5h1.6M875.5 1007.5h1.6M883.1 1007.5h1.6M887.5 1007.5h1.6M891.9 1007.5h1.6M899.4 1007.5h1.6M903.8 1007.5h1.6M908.2 1007.5h1.6M915.8 1007.5h1.6M920.2 1007.5h1.6M924.6 1007.5h1.6M957.1 1007.5h1.6M961.5 1007.5h1.6M965.9 1007.5h1.6M973.5 1007.5h1.6M977.9 1007.5h1.6M982.3 1007.5h1.6M989.8 1007.5h1.6M994.2 1007.5h1.6M998.6 1007.5h1.6M1006.2 1007.5h1.6M1010.6 1007.5h1.6M1015.0 1007.5h1.6M1022.5 1007.5h1.6M1026.9 1007.5h1.6M1031.3 1007.5h1.6M1038.9 1007.5h1.6M1043.3 1007.5h1.6M1047.7 1007.5h1.6M1080.2 1007.5h1.6M1084.6 1007.5h1.6M1089.0 1007.5h1.6M1096.6 1007.5h1.6M1101.0 1007.5h1.6M1105.4 1007.5h1.6M1112.9 1007.5h1.6M1117.3 1007.5h1.6M1121.7 1007.5h1.6M1129.3 1007.5h1.6M1133.7 1007.5h1.6M1138.1 1007.5h1.6M1145.6 1007.5h1.6M1150.0 1007.5h1.6M1154.4 1007.5h1.6M1162.0 1007.5h1.6M1166.4 1007.5h1.6M1170.8 1007.5h1.6M1203.3 1007.5h1.6M1207.7 1007.5h1.6M1212.1 1007.5h1.6M1219.7 1007.5h1.6M1224.1 1007.5h1.6M1228.5 1007.5h1.6M1236.0 1007.5h1.6M1240.4 1007.5h1.6M1244.8 1007.5h1.6M1252.4 1007.5h1.6M1256.8 1007.5h1.6M1261.2 1007.5h1.6M1268.7 1007.5h1.6M1273.1 1007.5h1.6M1277.5 1007.5h1.6M1285.1 1007.5h1.6M1289.5 1007.5h1.6M1293.9 1007.5h1.6M1326.4 1007.5h1.6M1330.8 1007.5h1.6M1335.2 1007.5h1.6M1342.8 1007.5h1.6M1347.2 1007.5h1.6M1351.6 1007.5h1.6M1359.1 1007.5h1.6M1363.5 1007.5h1.6M1367.9 1007.5h1.6M1375.5 1007.5h1.6M1379.9 1007.5h1.6M1384.3 1007.5h1.6M1391.8 1007.5h1.6M1396.2 1007.5h1.6M1400.6 1007.5h1.6M1408.2 1007.5h1.6M1412.6 1007.5h1.6M1417.0 1007.5h1.6M1449.5 1007.5h1.6M1453.9 1007.5h1.6M1458.3 1007.5h1.6M1465.9 1007.5h1.6M1470.3 1007.5h1.6M1474.7 1007.5h1.6M1482.2 1007.5h1.6M1486.6 1007.5h1.6M1491.0 1007.5h1.6M1498.6 1007.5h1.6M1503.0 1007.5h1.6M1507.4 1007.5h1.6M1514.9 1007.5h1.6M1519.3 1007.5h1.6M1523.7 1007.5h1.6M1531.3 1007.5h1.6M1535.7 1007.5h1.6M1540.1 1007.5h1.6" stroke="#333" stroke-width="1.2" fill="none"/>
<path d="M829.5 608.4H817.7V772.5M817.7 787V1009.1H1554.5" stroke="#000" stroke-width="1.6" fill="none"/>
<path d="M805.5 783.5L830 775.5M805.5 790L830 782" stroke="#000" stroke-width="1.4" fill="none"/>
<line x1="817.7" y1="721.1" x2="829.5" y2="721.1" stroke="#000" stroke-width="1.5"/>
<line x1="817.7" y1="896.7" x2="829.5" y2="896.7" stroke="#000" stroke-width="1.5"/>
<line x1="817.7" y1="664.6" x2="824.0" y2="664.6" stroke="#000" stroke-width="1.3"/>
<line x1="817.7" y1="840.5" x2="824.0" y2="840.5" stroke="#000" stroke-width="1.3"/>
<line x1="817.7" y1="952.6" x2="824.0" y2="952.6" stroke="#000" stroke-width="1.3"/>
<text x="791.8" y="618.5" font-size="17.7" text-anchor="end" fill="#111">70,000</text>
<text x="791.8" y="728.9" font-size="17.7" text-anchor="end" fill="#111">60,000</text>
<text x="791.8" y="901.8" font-size="17.7" text-anchor="end" fill="#111">10,000</text>
<text x="791.8" y="1009.5" font-size="17.7" text-anchor="end" fill="#111">0</text>
<text x="878.2" y="1035.3" font-size="17.7" text-anchor="middle" fill="#111">10,000</text>
<text x="1000.4" y="1035.3" font-size="17.7" text-anchor="middle" fill="#111">1,000</text>
<text x="1124.3" y="1035.3" font-size="17.7" text-anchor="middle" fill="#111">100</text>
<text x="1247.0" y="1035.3" font-size="17.7" text-anchor="middle" fill="#111">10</text>
<text x="1367.7" y="1035.3" font-size="17.7" text-anchor="middle" fill="#111">1</text>
<text x="1491.4" y="1035.3" font-size="17.7" text-anchor="middle" fill="#111">0</text>
<text x="1172.5" y="1080.3" font-size="20" text-anchor="middle" fill="#111">Mu lentivirus viral particles (cp/rxn)</text>
<text x="697.0" y="829.0" font-size="22.1" text-anchor="middle" fill="#111" transform="rotate(-90 697.0 829.0)">Background subtracted fluorescence</text>
<rect x="1156.4" y="826.8" width="15.0" height="34.4" fill="#5a0f70"/>
<rect x="1174.2" y="688.7" width="15.0" height="172.5" fill="#a02864"/>
<rect x="1209.8" y="857.9" width="15.0" height="3.3" fill="#f7931b"/>
<rect x="1227.6" y="854.3" width="15.0" height="6.9" fill="#f2d84e"/>
<rect x="1189.2" y="854.7" width="1.4" height="6.5" fill="#222"/>
<rect x="1272.4" y="854.3" width="15.0" height="6.9" fill="#150d32"/>
<rect x="1290.2" y="838.1" width="15.0" height="23.1" fill="#5a0f70"/>
<rect x="1308.0" y="782.5" width="15.0" height="78.7" fill="#a02864"/>
<rect x="1343.6" y="859.6" width="15.0" height="1.6" fill="#f7931b"/>
<rect x="1323.0" y="854.7" width="1.4" height="6.5" fill="#222"/>
<rect x="1406.2" y="854.3" width="15.0" height="6.9" fill="#150d32"/>
<rect x="1441.8" y="855.5" width="15.0" height="5.7" fill="#a02864"/>
<rect x="1477.4" y="857.5" width="15.0" height="3.7" fill="#f7931b"/>
<rect x="1495.2" y="857.2" width="15.0" height="4.0" fill="#f2d84e"/>
<rect x="1456.8" y="854.7" width="1.4" height="6.5" fill="#222"/>
<path d="M1164.0 788.6V826.8M1160.0 788.6h8M1160.0 826.8h8" stroke="#999" stroke-width="0.7" fill="none"/>
<path d="M1181.7 654.5V688.7M1177.7 654.5h8M1177.7 688.7h8" stroke="#999" stroke-width="0.7" fill="none"/>
<path d="M1297.4 806.9V838.1M1293.4 806.9h8M1293.4 838.1h8" stroke="#999" stroke-width="0.7" fill="none"/>
<path d="M1315.5 770.3V782.5M1311.5 770.3h8M1311.5 782.5h8" stroke="#999" stroke-width="0.7" fill="none"/>
<path d="M1235.1 848.8V854.2M1231.1 848.8h8M1231.1 854.2h8" stroke="#999" stroke-width="0.7" fill="none"/>
<path d="M1217.1 854.2V857.9M1213.1 854.2h8M1213.1 857.9h8" stroke="#999" stroke-width="0.7" fill="none"/>
<path d="M1279.4 850.6V854.2M1275.4 850.6h8M1275.4 854.2h8" stroke="#999" stroke-width="0.7" fill="none"/>
<path d="M1413.2 850.6V854.2M1409.2 850.6h8M1409.2 854.2h8" stroke="#999" stroke-width="0.7" fill="none"/>
<path d="M1431.2 856.4V861.0M1427.2 856.4h8M1427.2 861.0h8" stroke="#999" stroke-width="0.7" fill="none"/>
<path d="M1448.9 852.7V855.5M1444.9 852.7h8M1444.9 855.5h8" stroke="#999" stroke-width="0.7" fill="none"/>
<path d="M1484.7 854.2V857.3M1480.7 854.2h8M1480.7 857.3h8" stroke="#999" stroke-width="0.7" fill="none"/>
<path d="M1502.7 853.9V857.0M1498.7 853.9h8M1498.7 857.0h8" stroke="#999" stroke-width="0.7" fill="none"/>
<circle cx="1164.0" cy="776.7" r="1.1" fill="#222"/>
<circle cx="1181.7" cy="654.5" r="1.1" fill="#222"/>
<circle cx="1181.7" cy="679.9" r="1.1" fill="#222"/>
<circle cx="1181.7" cy="731.8" r="1.1" fill="#222"/>
<circle cx="1293.8" cy="820.7" r="1.1" fill="#222"/>
<circle cx="1301.1" cy="813.9" r="1.1" fill="#222"/>
<circle cx="1311.8" cy="780.0" r="1.1" fill="#222"/>
<circle cx="1318.5" cy="770.0" r="1.1" fill="#222"/>
<circle cx="1315.2" cy="797.4" r="1.1" fill="#222"/>
<circle cx="1213.5" cy="853.3" r="1.1" fill="#222"/>
<circle cx="1230.3" cy="847.2" r="1.1" fill="#222"/>
<circle cx="1235.8" cy="855.5" r="1.1" fill="#222"/>
<circle cx="1239.4" cy="859.1" r="1.1" fill="#222"/>
<circle cx="1274.8" cy="850.3" r="1.1" fill="#222"/>
<circle cx="1282.5" cy="851.8" r="1.1" fill="#222"/>
<circle cx="1417.8" cy="850.3" r="1.1" fill="#222"/>
<circle cx="1409.2" cy="854.9" r="1.1" fill="#222"/>
<circle cx="1427.5" cy="855.5" r="1.1" fill="#222"/>
<circle cx="1444.0" cy="853.6" r="1.1" fill="#222"/>
<circle cx="1449.5" cy="852.4" r="1.1" fill="#222"/>
<circle cx="1454.4" cy="853.9" r="1.1" fill="#222"/>
<circle cx="1480.4" cy="855.8" r="1.1" fill="#222"/>
<circle cx="1484.7" cy="854.2" r="1.1" fill="#222"/>
<circle cx="1497.8" cy="856.7" r="1.1" fill="#222"/>
<circle cx="1506.9" cy="853.9" r="1.1" fill="#222"/>
<circle cx="1354.9" cy="858.2" r="1.1" fill="#222"/>
<circle cx="1350.3" cy="859.4" r="1.1" fill="#222"/>
<path d="M1129 621.2H1124.3V861.2H1524.5" stroke="#222" stroke-width="1.3" fill="none"/>
<line x1="1124.3" y1="701.2" x2="1130.0" y2="701.2" stroke="#222" stroke-width="1.1"/>
<line x1="1124.3" y1="781.3" x2="1130.0" y2="781.3" stroke="#222" stroke-width="1.1"/>
<line x1="1124.3" y1="661.2" x2="1128.0" y2="661.2" stroke="#222" stroke-width="1"/>
<line x1="1124.3" y1="741.2" x2="1128.0" y2="741.2" stroke="#222" stroke-width="1"/>
<line x1="1124.3" y1="821.3" x2="1128.0" y2="821.3" stroke="#222" stroke-width="1"/>
<text x="1112.5" y="629.7" font-size="17.7" text-anchor="end" fill="#111">300</text>
<text x="1112.5" y="709.2" font-size="17.7" text-anchor="end" fill="#111">200</text>
<text x="1112.5" y="789.3" font-size="17.7" text-anchor="end" fill="#111">100</text>
<text x="1112.5" y="872.2" font-size="17.7" text-anchor="end" fill="#111">0</text>
<text x="1188.1" y="892.8" font-size="17.7" text-anchor="middle" fill="#111">10</text>
<text x="1323.4" y="892.8" font-size="17.7" text-anchor="middle" fill="#111">1</text>
<text x="1454.4" y="892.8" font-size="17.7" text-anchor="middle" fill="#111">0</text>
<rect x="1354.9" y="621.5" width="21.2" height="13.6" fill="#150d32"/>
<text x="1387.2" y="632.8" font-size="13.2" fill="#111">Y144Y</text>
<rect x="1354.9" y="636.0" width="21.2" height="13.6" fill="#5a0f70"/>
<text x="1387.2" y="647.2" font-size="13.2" fill="#111">Y144del</text>
<rect x="1354.9" y="650.4" width="21.2" height="13.6" fill="#a02864"/>
<text x="1387.2" y="661.7" font-size="13.2" fill="#111">Y144SY145N</text>
<rect x="1354.9" y="664.9" width="21.2" height="13.6" fill="#d9533c"/>
<text x="1387.2" y="676.1" font-size="13.2" fill="#111">G142D143-145del</text>
<rect x="1354.9" y="679.3" width="21.2" height="13.6" fill="#f7931b"/>
<text x="1387.2" y="690.6" font-size="13.2" fill="#111">G142D</text>
<rect x="1354.9" y="693.8" width="21.2" height="13.6" fill="#f2d84e"/>
<text x="1387.2" y="705.0" font-size="13.2" fill="#111">G142DY145H</text>
<path d="M1129 867L1225 1003M1513.7 864L1497.8 1003" stroke="#444" stroke-width="0.9" fill="none" stroke-dasharray="6 2 1.5 2"/>
</g>
<g id="panel-f">
<text x="1605.0" y="23.0" font-size="31" font-weight="bold" fill="#000">f</text>
<rect x="1719.2" y="119.1" width="46.7" height="30.2" fill="#c5e8b3"/>
<rect x="1765.9" y="119.1" width="51.7" height="30.2" fill="#2ca1c4"/>
<rect x="1817.6" y="119.1" width="61.2" height="30.2" fill="#25409a"/>
<rect x="1719.2" y="149.0" width="49.0" height="29.9" fill="#eff8b4"/>
<rect x="1768.2" y="149.0" width="47.4" height="29.9" fill="#7bcbc5"/>
<rect x="1815.6" y="149.0" width="46.4" height="29.9" fill="#2a72c9"/>
<text x="1700.8" y="147.7" font-size="20" text-anchor="end" fill="#111">No. 1</text>
<rect x="1719.2" y="193.6" width="34.9" height="30.2" fill="#c5e8b3"/>
<rect x="1754.1" y="193.6" width="20.4" height="30.2" fill="#2ca1c4"/>
<rect x="1774.5" y="193.6" width="41.1" height="30.2" fill="#25409a"/>
<rect x="1719.2" y="223.5" width="54.3" height="29.9" fill="#eff8b4"/>
<rect x="1773.5" y="223.5" width="55.6" height="29.9" fill="#7bcbc5"/>
<rect x="1829.1" y="223.5" width="39.8" height="29.9" fill="#2a72c9"/>
<text x="1700.8" y="222.2" font-size="20" text-anchor="end" fill="#111">No. 2</text>
<rect x="1719.2" y="268.0" width="55.3" height="30.2" fill="#c5e8b3"/>
<rect x="1774.5" y="268.0" width="65.1" height="30.2" fill="#2ca1c4"/>
<rect x="1839.6" y="268.0" width="77.3" height="30.2" fill="#25409a"/>
<rect x="1719.2" y="297.9" width="61.8" height="29.9" fill="#eff8b4"/>
<rect x="1781.0" y="297.9" width="62.5" height="29.9" fill="#7bcbc5"/>
<rect x="1843.6" y="297.9" width="62.8" height="29.9" fill="#2a72c9"/>
<text x="1700.8" y="296.6" font-size="20" text-anchor="end" fill="#111">No. 3</text>
<rect x="1719.2" y="342.5" width="49.3" height="30.2" fill="#c5e8b3"/>
<rect x="1768.5" y="342.5" width="52.3" height="30.2" fill="#2ca1c4"/>
<rect x="1820.9" y="342.5" width="62.5" height="30.2" fill="#25409a"/>
<rect x="1719.2" y="372.4" width="47.0" height="29.9" fill="#eff8b4"/>
<rect x="1766.2" y="372.4" width="52.3" height="29.9" fill="#7bcbc5"/>
<rect x="1818.6" y="372.4" width="53.0" height="29.9" fill="#2a72c9"/>
<text x="1700.8" y="371.1" font-size="20" text-anchor="end" fill="#111">No. 4</text>
<rect x="1719.2" y="416.9" width="59.2" height="30.2" fill="#c5e8b3"/>
<rect x="1778.4" y="416.9" width="71.4" height="30.2" fill="#2ca1c4"/>
<rect x="1849.8" y="416.9" width="58.9" height="30.2" fill="#25409a"/>
<rect x="1719.2" y="446.8" width="46.4" height="29.9" fill="#eff8b4"/>
<rect x="1765.6" y="446.8" width="61.2" height="29.9" fill="#7bcbc5"/>
<rect x="1826.8" y="446.8" width="55.6" height="29.9" fill="#2a72c9"/>
<text x="1700.8" y="445.5" font-size="20" text-anchor="end" fill="#111">No. 5</text>
<rect x="1719.2" y="491.4" width="44.7" height="30.2" fill="#c5e8b3"/>
<rect x="1763.9" y="491.4" width="59.2" height="30.2" fill="#2ca1c4"/>
<rect x="1823.2" y="491.4" width="49.4" height="30.2" fill="#25409a"/>
<rect x="1719.2" y="521.2" width="57.2" height="29.9" fill="#eff8b4"/>
<rect x="1776.4" y="521.2" width="66.1" height="29.9" fill="#7bcbc5"/>
<rect x="1842.6" y="521.2" width="59.2" height="29.9" fill="#2a72c9"/>
<text x="1700.8" y="520.0" font-size="20" text-anchor="end" fill="#111">No. 6</text>
<rect x="1719.2" y="565.8" width="44.1" height="30.2" fill="#c5e8b3"/>
<rect x="1763.3" y="565.8" width="58.2" height="30.2" fill="#2ca1c4"/>
<rect x="1821.5" y="565.8" width="50.7" height="30.2" fill="#25409a"/>
<rect x="1719.2" y="595.7" width="48.4" height="29.9" fill="#eff8b4"/>
<rect x="1767.6" y="595.7" width="59.9" height="29.9" fill="#7bcbc5"/>
<rect x="1827.4" y="595.7" width="58.2" height="29.9" fill="#2a72c9"/>
<text x="1700.8" y="594.4" font-size="20" text-anchor="end" fill="#111">No. 7</text>
<rect x="1719.2" y="640.2" width="46.7" height="30.2" fill="#c5e8b3"/>
<rect x="1765.9" y="640.2" width="58.2" height="30.2" fill="#2ca1c4"/>
<rect x="1824.1" y="640.2" width="53.0" height="30.2" fill="#25409a"/>
<rect x="1719.2" y="670.1" width="46.0" height="29.9" fill="#eff8b4"/>
<rect x="1765.2" y="670.1" width="49.7" height="29.9" fill="#7bcbc5"/>
<rect x="1814.9" y="670.1" width="54.0" height="29.9" fill="#2a72c9"/>
<text x="1700.8" y="668.9" font-size="20" text-anchor="end" fill="#111">No. 8</text>
<rect x="1719.2" y="714.7" width="55.6" height="30.2" fill="#c5e8b3"/>
<rect x="1774.8" y="714.7" width="80.3" height="30.2" fill="#2ca1c4"/>
<rect x="1855.1" y="714.7" width="66.1" height="30.2" fill="#25409a"/>
<rect x="1719.2" y="744.6" width="50.0" height="29.9" fill="#eff8b4"/>
<rect x="1769.2" y="744.6" width="62.5" height="29.9" fill="#7bcbc5"/>
<rect x="1831.7" y="744.6" width="65.1" height="29.9" fill="#2a72c9"/>
<text x="1700.8" y="743.3" font-size="20" text-anchor="end" fill="#111">No. 9</text>
<rect x="1719.2" y="789.2" width="47.0" height="30.2" fill="#c5e8b3"/>
<rect x="1766.2" y="789.2" width="48.7" height="30.2" fill="#2ca1c4"/>
<rect x="1814.9" y="789.2" width="65.5" height="30.2" fill="#25409a"/>
<rect x="1719.2" y="819.1" width="59.2" height="29.9" fill="#eff8b4"/>
<rect x="1778.4" y="819.1" width="56.9" height="29.9" fill="#7bcbc5"/>
<rect x="1835.3" y="819.1" width="58.9" height="29.9" fill="#2a72c9"/>
<text x="1700.8" y="817.8" font-size="20" text-anchor="end" fill="#111">No. 10</text>
<rect x="1719.2" y="863.6" width="41.1" height="30.2" fill="#c5e8b3"/>
<rect x="1760.3" y="863.6" width="20.4" height="30.2" fill="#2ca1c4"/>
<rect x="1780.7" y="863.6" width="44.1" height="30.2" fill="#25409a"/>
<rect x="1719.2" y="893.5" width="55.6" height="29.9" fill="#eff8b4"/>
<rect x="1774.8" y="893.5" width="54.6" height="29.9" fill="#7bcbc5"/>
<rect x="1829.4" y="893.5" width="51.0" height="29.9" fill="#2a72c9"/>
<text x="1700.8" y="892.2" font-size="20" text-anchor="end" fill="#111">No. 11</text>
<rect x="1719.2" y="938.1" width="60.9" height="30.2" fill="#c5e8b3"/>
<rect x="1780.1" y="938.1" width="54.3" height="30.2" fill="#2ca1c4"/>
<rect x="1834.3" y="938.1" width="62.8" height="30.2" fill="#25409a"/>
<rect x="1719.2" y="968.0" width="58.6" height="29.9" fill="#eff8b4"/>
<rect x="1777.8" y="968.0" width="59.6" height="29.9" fill="#7bcbc5"/>
<rect x="1837.3" y="968.0" width="55.3" height="29.9" fill="#2a72c9"/>
<text x="1700.8" y="966.7" font-size="20" text-anchor="end" fill="#111">No. 12</text>
<path d="M1718.3 111V1004.7H1968.5" stroke="#000" stroke-width="2.2" fill="none"/>
<path d="M1718.3 111.5h3M1718.3 185.9h3M1718.3 260.4h3M1718.3 334.9h3M1718.3 409.3h3M1718.3 483.8h3M1718.3 558.2h3M1718.3 632.6h3M1718.3 707.1h3M1718.3 781.6h3M1718.3 856.0h3M1718.3 930.5h3M1718.3 1004.9h3" stroke="#000" stroke-width="2" fill="none"/>
<line x1="1801.1" y1="1004.7" x2="1801.1" y2="1000.0" stroke="#000" stroke-width="2"/>
<line x1="1884.4" y1="1004.7" x2="1884.4" y2="1000.0" stroke="#000" stroke-width="2"/>
<line x1="1967.6" y1="1004.7" x2="1967.6" y2="1000.0" stroke="#000" stroke-width="2"/>
<text x="1721.5" y="1032.5" font-size="18" text-anchor="middle" fill="#111">0</text>
<text x="1802.0" y="1032.5" font-size="18" text-anchor="middle" fill="#111">5</text>
<text x="1882.7" y="1032.5" font-size="18" text-anchor="middle" fill="#111">10</text>
<text x="1965.6" y="1032.5" font-size="18" text-anchor="middle" fill="#111">15</text>
<text font-size="21.8" fill="#111" text-anchor="middle" transform="translate(1609.5 585) rotate(-90)">Log<tspan font-size="13" dy="4">10</tspan><tspan dy="-4"> background subtracted fluorescence</tspan></text>
<path d="M1942.0 126.0Q1947.0 126.0 1947.0 133.0V258.0Q1947.0 265.0 1951.0 265.0Q1947.0 265.0 1947.0 272.0V397.0Q1947.0 404.0 1942.0 404.0" stroke="#111" stroke-width="1.7" fill="none"/>
<text x="1975.8" y="264.0" font-size="21.5" fill="#111">Alpha</text>
<path d="M1942.0 427.0Q1947.0 427.0 1947.0 434.0V480.0Q1947.0 487.0 1951.0 487.0Q1947.0 487.0 1947.0 494.0V540.0Q1947.0 547.0 1942.0 547.0" stroke="#111" stroke-width="1.7" fill="none"/>
<text x="1981.0" y="485.3" font-size="21.5" fill="#111">Beta</text>
<path d="M1942.0 571.7Q1947.0 571.7 1947.0 578.7V702.5Q1947.0 709.5 1951.0 709.5Q1947.0 709.5 1947.0 716.5V840.4Q1947.0 847.4 1942.0 847.4" stroke="#111" stroke-width="1.7" fill="none"/>
<text x="1978.1" y="706.6" font-size="21.5" fill="#111">Delta</text>
<path d="M1942.0 877.7Q1947.0 877.7 1947.0 884.7V930.4Q1947.0 937.4 1951.0 937.4Q1947.0 937.4 1947.0 944.4V990.1Q1947.0 997.1 1942.0 997.1" stroke="#111" stroke-width="1.7" fill="none"/>
<text x="1977.5" y="937.2" font-size="21.5" fill="#111">Wild type</text>
<rect x="1620.1" y="54.3" width="17.9" height="22.0" fill="#c5e8b3"/>
<rect x="1637.8" y="54.3" width="17.9" height="22.0" fill="#2ca1c4"/>
<rect x="1655.5" y="54.3" width="17.9" height="22.0" fill="#25409a"/>
<text x="1685.3" y="72.0" font-size="19.8" fill="#111">Thermal lysed sample</text>
<rect x="1915.0" y="54.3" width="17.9" height="22.0" fill="#eff8b4"/>
<rect x="1932.7" y="54.3" width="17.9" height="22.0" fill="#7bcbc5"/>
<rect x="1950.4" y="54.3" width="17.9" height="22.0" fill="#2a72c9"/>
<text x="1984.0" y="72.0" font-size="19.8" fill="#111">Extracted RNA</text>
<rect x="2026.5" y="87.2" width="31.9" height="21.4" fill="#c5e8b3"/>
<rect x="2026.5" y="110.9" width="31.9" height="20.7" fill="#eff8b4"/>
<rect x="2026.5" y="133.9" width="31.9" height="21.4" fill="#2ca1c4"/>
<rect x="2026.5" y="157.9" width="31.9" height="20.8" fill="#7bcbc5"/>
<rect x="2026.5" y="181.6" width="31.9" height="21.1" fill="#25409a"/>
<rect x="2026.5" y="205.0" width="31.9" height="21.4" fill="#2a72c9"/>
<line x1="2066.7" y1="88.8" x2="2066.7" y2="129.3" stroke="#000" stroke-width="2.6"/>
<text x="2077.5" y="111.3" font-size="17.6" fill="#111">G142-Y145</text>
<line x1="2066.7" y1="136.5" x2="2066.7" y2="176.7" stroke="#000" stroke-width="2.6"/>
<text x="2077.5" y="156.9" font-size="17.6" fill="#111">K417</text>
<line x1="2066.7" y1="184.3" x2="2066.7" y2="225.4" stroke="#000" stroke-width="2.6"/>
<text x="2077.5" y="201.9" font-size="17.6" fill="#111">L452</text>
</g>
<g id="panel-d">
<text x="5.0" y="1141.0" font-size="31" font-weight="bold" fill="#000">d</text>
<path d="M174.0 1589.5L315.2 1491.6L456.6 1383.7L597.4 1215.3" stroke="#8a8a8a" stroke-width="1" fill="none"/>
<path d="M174.0 1583.2L315.2 1479.2L456.6 1374.5L597.4 1259.2" stroke="#e88a8a" stroke-width="1" fill="none"/>
<path d="M597.4 1202.9V1227.0M593.4 1202.9h8M593.4 1227.0h8" stroke="#777" stroke-width="1" fill="none"/>
<path d="M597.4 1252.1V1266.2M593.4 1252.1h8M593.4 1266.2h8" stroke="#e06a6a" stroke-width="1" fill="none"/>
<path d="M456.6 1368.8V1380.1M452.6 1368.8h8M452.6 1380.1h8" stroke="#e06a6a" stroke-width="1" fill="none"/>
<path d="M315.2 1471.4V1486.3M311.2 1471.4h8M311.2 1486.3h8" stroke="#e06a6a" stroke-width="1" fill="none"/>
<path d="M174.0 1576.8V1589.9M170.0 1576.8h8M170.0 1589.9h8" stroke="#e06a6a" stroke-width="1" fill="none"/>
<path d="M456.6 1379.4V1388.6M452.6 1379.4h8M452.6 1388.6h8" stroke="#777" stroke-width="1" fill="none"/>
<circle cx="174.0" cy="1589.5" r="5.6" fill="#4a4a4a"/>
<circle cx="315.2" cy="1491.6" r="5.6" fill="#4a4a4a"/>
<circle cx="456.6" cy="1383.7" r="5.6" fill="#4a4a4a"/>
<circle cx="597.4" cy="1215.3" r="5.6" fill="#4a4a4a"/>
<path d="M174.0 1576.6L180.6 1587.8H167.4Z" fill="#ee3a3f"/>
<path d="M315.2 1472.6L321.8 1483.8H308.6Z" fill="#ee3a3f"/>
<path d="M456.6 1367.9L463.2 1379.1H450.0Z" fill="#ee3a3f"/>
<path d="M597.4 1252.6L604.0 1263.8H590.8Z" fill="#ee3a3f"/>
<path d="M108 1156.3H104.3V1624.9H668.2V1620" stroke="#000" stroke-width="2.2" fill="none"/>
<path d="M104.3 1185.2h9M104.3 1214.5h5M104.3 1243.8h9M104.3 1273.1h5M104.3 1302.5h9M104.3 1331.8h5M104.3 1361.1h9M104.3 1390.4h5M104.3 1419.7h9M104.3 1449.0h5M104.3 1478.4h9M104.3 1507.7h5M104.3 1537.0h9M104.3 1566.3h5M104.3 1595.6h9M104.3 1155.9h5M174.0 1624.9v-9M315.2 1624.9v-9M456.6 1624.9v-9M597.4 1624.9v-9M244.6 1624.9v-5M385.9 1624.9v-5M527.0 1624.9v-5" stroke="#000" stroke-width="1.8" fill="none"/>
<text x="87.0" y="1191.2" font-size="24.5" text-anchor="end" fill="#111">40</text>
<text x="87.0" y="1252.6" font-size="24.5" text-anchor="end" fill="#111">38</text>
<text x="87.0" y="1311.3" font-size="24.5" text-anchor="end" fill="#111">36</text>
<text x="87.0" y="1369.9" font-size="24.5" text-anchor="end" fill="#111">34</text>
<text x="87.0" y="1428.5" font-size="24.5" text-anchor="end" fill="#111">32</text>
<text x="87.0" y="1487.2" font-size="24.5" text-anchor="end" fill="#111">30</text>
<text x="87.0" y="1545.8" font-size="24.5" text-anchor="end" fill="#111">28</text>
<text x="87.0" y="1604.4" font-size="24.5" text-anchor="end" fill="#111">26</text>
<text x="175.5" y="1656.5" font-size="24" text-anchor="middle" fill="#111">100,000</text>
<text x="315.7" y="1656.5" font-size="24" text-anchor="middle" fill="#111">10,000</text>
<text x="454.1" y="1656.5" font-size="24" text-anchor="middle" fill="#111">1,000</text>
<text x="591.9" y="1656.5" font-size="24" text-anchor="middle" fill="#111">100</text>
<text x="373.9" y="1697.3" font-size="24.2" text-anchor="middle" fill="#111">Lentivirus (Copies/rxn)</text>
<text x="33.5" y="1383.0" font-size="24.1" text-anchor="middle" fill="#111" transform="rotate(-90 33.5 1383.0)">Ct Value</text>
<line x1="158.5" y1="1177.5" x2="206.2" y2="1177.5" stroke="#8a8a8a" stroke-width="1"/>
<circle cx="182.4" cy="1177.5" r="5.6" fill="#4a4a4a"/>
<line x1="158.5" y1="1204.5" x2="206.2" y2="1204.5" stroke="#e88a8a" stroke-width="1"/>
<path d="M182.4 1197.9L189.0 1209.1H175.8Z" fill="#ee3a3f"/>
<text x="213.0" y="1184.3" font-size="21.4" fill="#111">Extracted RNA</text>
<text x="213.0" y="1211.6" font-size="21.4" fill="#111">Thermal lysis</text>
</g>
<g id="panel-e">
<text x="647.0" y="1141.0" font-size="31" font-weight="bold" fill="#000">e</text>
<text x="1096.6" y="1160.8" font-size="22.1" text-anchor="middle" fill="#111">Amplification Plot</text>
<rect x="743.8" y="1187.6" width="744.3" height="365.8" fill="#fff"/>
<path d="M760.4 1187.6V1553.4M794.3 1187.6V1553.4M828.1 1187.6V1553.4M861.9 1187.6V1553.4M895.8 1187.6V1553.4M929.6 1187.6V1553.4M963.5 1187.6V1553.4M997.3 1187.6V1553.4M1031.1 1187.6V1553.4M1065.0 1187.6V1553.4M1098.8 1187.6V1553.4M1132.7 1187.6V1553.4M1166.5 1187.6V1553.4M1200.3 1187.6V1553.4M1234.2 1187.6V1553.4M1268.0 1187.6V1553.4M1301.9 1187.6V1553.4M1335.7 1187.6V1553.4M1369.5 1187.6V1553.4M1403.4 1187.6V1553.4M1437.2 1187.6V1553.4M1471.1 1187.6V1553.4" stroke="#e2e2e2" stroke-width="1" fill="none" stroke-dasharray="3 2.5"/>
<path d="M743.8 1537.5H1488.1M743.8 1526.1H1488.1M743.8 1517.3H1488.1M743.8 1510.1H1488.1M743.8 1503.9H1488.1M743.8 1498.6H1488.1M743.8 1494.0H1488.1M743.8 1489.8H1488.1M743.8 1462.3H1488.1M743.8 1446.2H1488.1M743.8 1434.8H1488.1M743.8 1426.0H1488.1M743.8 1418.8H1488.1M743.8 1412.6H1488.1M743.8 1407.3H1488.1M743.8 1402.7H1488.1M743.8 1398.5H1488.1M743.8 1371.0H1488.1M743.8 1354.9H1488.1M743.8 1343.5H1488.1M743.8 1334.7H1488.1M743.8 1327.5H1488.1M743.8 1321.3H1488.1M743.8 1316.0H1488.1M743.8 1311.4H1488.1M743.8 1307.2H1488.1M743.8 1279.7H1488.1M743.8 1263.6H1488.1M743.8 1252.2H1488.1M743.8 1243.4H1488.1M743.8 1236.2H1488.1M743.8 1230.0H1488.1M743.8 1224.7H1488.1M743.8 1220.1H1488.1M743.8 1215.9H1488.1" stroke="#e9e9e9" stroke-width="1" fill="none" stroke-dasharray="2 3"/>
<path d="M743.8 1489.8H1488.1M743.8 1398.5H1488.1M743.8 1307.2H1488.1M743.8 1215.9H1488.1" stroke="#dcdcdc" stroke-width="1" fill="none" stroke-dasharray="3 2"/>
<clipPath id="eclip"><rect x="743.8" y="1187.6" width="744.3" height="365.8"/></clipPath>
<g clip-path="url(#eclip)">
<path d="M743.5 1390.9L760.4 1403.2L777.3 1412.1L794.3 1422.2L811.2 1417.7L828.1 1414.4L845.0 1430.0L861.9 1432.2L878.9 1427.3L895.8 1436.7L912.7 1441.2L929.6 1492.5L946.5 1534.9" stroke="#0c7c50" stroke-width="1.15" fill="none" stroke-linejoin="round"/>
<path d="M743.5 1392.0L760.4 1405.4L777.3 1443.4L794.3 1470.2L811.2 1495.8L828.1 1463.5L845.0 1497.0L861.9 1479.1L878.9 1472.4L895.8 1455.7L912.7 1450.1L929.6 1445.2L946.5 1450.1L963.5 1493.6" stroke="#0c7c50" stroke-width="1.15" fill="none" stroke-linejoin="round"/>
<path d="M743.5 1423.3L760.4 1425.5L777.3 1423.3L794.3 1432.2L811.2 1447.9L828.1 1436.7L845.0 1459.0L861.9 1447.9L878.9 1467.9L895.8 1520.4" stroke="#0c7c50" stroke-width="1.1" fill="none" stroke-linejoin="round"/>
<path d="M743.5 1377.5L760.4 1389.8L777.3 1398.7L794.3 1412.1L811.2 1407.7L828.1 1421.1L845.0 1422.2L861.9 1436.7L878.9 1470.2L895.8 1510.4" stroke="#e89050" stroke-width="1.1" fill="none" stroke-linejoin="round"/>
<path d="M743.5 1385.4L760.4 1394.3L777.3 1401.0L794.3 1416.6L811.2 1425.5L828.1 1434.5L845.0 1425.5L861.9 1447.9L878.9 1497.0L879.2 1534.9" stroke="#f0902a" stroke-width="1.1" fill="none" stroke-linejoin="round"/>
<path d="M743.5 1427.8L760.4 1461.2L777.3 1456.8L794.3 1443.4L811.2 1445.6L828.1 1461.2L845.0 1476.9L861.9 1494.7L878.9 1500.3" stroke="#e8a050" stroke-width="1.0" fill="none" stroke-linejoin="round"/>
<path d="M922.9 1555.0L929.6 1532.7L946.5 1522.6" stroke="#e08a3a" stroke-width="1.0" fill="none" stroke-linejoin="round"/>
<path d="M743.5 1380.9L760.4 1396.5L777.3 1403.2L794.3 1407.7L811.2 1427.8L828.1 1438.9L845.0 1454.5L861.9 1470.2L878.9 1534.9" stroke="#a57c3c" stroke-width="1.1" fill="none" stroke-linejoin="round"/>
<path d="M743.5 1403.2L760.4 1413.3L777.3 1416.6L794.3 1425.5L811.2 1432.2L828.1 1441.2L845.0 1470.2L861.9 1501.4" stroke="#a08040" stroke-width="1.0" fill="none" stroke-linejoin="round"/>
<path d="M743.5 1409.9L760.4 1416.6L777.3 1425.5L794.3 1436.7L811.2 1470.2L828.1 1512.6L845.0 1470.2L861.9 1472.4L878.9 1476.9" stroke="#8a8a6a" stroke-width="1.0" fill="none" stroke-linejoin="round"/>
<path d="M743.5 1394.3L760.4 1409.9L777.3 1421.1L794.3 1430.0L811.2 1443.4L828.1 1463.5L845.0 1505.9L861.9 1521.5L878.9 1503.7" stroke="#8a8a2a" stroke-width="1.0" fill="none" stroke-linejoin="round"/>
<path d="M743.5 1398.7L760.4 1409.9L777.3 1414.4L794.3 1423.3L811.2 1425.5L828.1 1430.0L845.0 1436.7L861.9 1447.9L878.9 1492.5L895.8 1555.0" stroke="#e8e020" stroke-width="1.2" fill="none" stroke-linejoin="round"/>
<path d="M743.5 1414.4L760.4 1418.8L777.3 1421.1L794.3 1425.5L811.2 1432.2L828.1 1427.8L845.0 1443.4L861.9 1461.2L878.9 1459.0L895.8 1508.1" stroke="#e0d020" stroke-width="1.1" fill="none" stroke-linejoin="round"/>
<path d="M743.5 1432.2L760.4 1452.3L777.3 1434.5L794.3 1456.8L811.2 1461.2L828.1 1447.9L845.0 1492.5L861.9 1481.3L878.9 1450.1L895.8 1454.5L912.7 1454.5L929.6 1519.3L946.5 1546.1" stroke="#f0cc80" stroke-width="1.0" fill="none" stroke-linejoin="round"/>
<path d="M743.5 1443.4L760.4 1432.2L777.3 1447.9L794.3 1454.5L811.2 1467.9L828.1 1501.4L845.0 1488.0L861.9 1476.9" stroke="#f0cc80" stroke-width="1.0" fill="none" stroke-linejoin="round"/>
<path d="M743.5 1403.2L760.4 1412.1L777.3 1407.7L794.3 1409.9L811.2 1407.7L828.1 1421.1L845.0 1423.3L861.9 1438.9L878.9 1459.0L895.8 1483.6" stroke="#e89050" stroke-width="1.0" fill="none" stroke-linejoin="round"/>
<path d="M743.5 1407.7L760.4 1403.2L777.3 1413.3L794.3 1420.0L811.2 1428.9L828.1 1431.1L845.0 1433.3L861.9 1444.5L878.9 1466.8L895.8 1494.7" stroke="#f0a030" stroke-width="1.0" fill="none" stroke-linejoin="round"/>
<path d="M743.5 1405.4L760.4 1421.1L777.3 1425.5L794.3 1451.2L811.2 1445.6L828.1 1454.5L845.0 1467.9L861.9 1456.8L878.9 1441.2L895.8 1444.5L912.7 1522.6L929.6 1470.2L946.5 1502.5" stroke="#30dfe6" stroke-width="1.5" fill="none" stroke-linejoin="round"/>
<path d="M743.5 1423.3L760.4 1423.3L777.3 1430.0L794.3 1436.7L811.2 1456.8L828.1 1478.0L845.0 1463.5L861.9 1472.4L878.9 1443.4L895.8 1456.8L912.7 1512.6L929.6 1490.3L946.5 1465.7L963.5 1470.6" stroke="#30dfe6" stroke-width="1.4" fill="none" stroke-linejoin="round"/>
<path d="M743.5 1412.1L760.4 1427.8L777.3 1426.6L794.3 1438.9L811.2 1438.9L828.1 1445.6L845.0 1459.0L861.9 1461.2L878.9 1528.2" stroke="#30dfe6" stroke-width="1.3" fill="none" stroke-linejoin="round"/>
<path d="M963.5 1480.5L980.4 1530.5L997.3 1526.5L1031.1 1460.0L1048.1 1439.0L1065.0 1470.5" stroke="#c0504d" stroke-width="1.1" fill="none" stroke-linejoin="round"/>
<path d="M1098.8 1457.9L1116.9 1432.7L1132.8 1423.3L1149.7 1451.2L1183.7 1421.8L1200.6 1429.6L1217.4 1441.2L1234.4 1443.4L1251.3 1427.8L1268.3 1428.2L1302.2 1502.6L1319.4 1446.3L1336.4 1431.8L1353.3 1460.2" stroke="#c0504d" stroke-width="1.1" fill="none" stroke-linejoin="round"/>
<path d="M1285.2 1452.4L1302.2 1360.8L1319.4 1322.9L1336.4 1296.1L1353.3 1276.0L1369.9 1258.1L1386.8 1247.0L1403.8 1239.2L1420.8 1233.6L1437.7 1228.0L1471.4 1220.2L1488.4 1217.5" stroke="#0c7c50" stroke-width="1.15" fill="none" stroke-linejoin="round"/>
<path d="M1285.2 1451.2L1310.2 1360.8L1326.5 1322.9L1342.5 1296.1L1358.5 1276.0L1374.1 1258.1L1390.2 1247.0L1406.2 1239.2L1422.2 1233.6L1438.3 1228.0L1471.4 1220.2L1488.4 1217.5" stroke="#0c7c50" stroke-width="1.15" fill="none" stroke-linejoin="round"/>
<path d="M1285.2 1546.1L1307.8 1388.7L1324.4 1336.3L1340.7 1305.0L1357.0 1281.6L1372.9 1263.0L1389.2 1251.0L1405.5 1242.5L1421.8 1236.3L1438.1 1230.5L1471.4 1222.0L1488.4 1218.8" stroke="#0c7c50" stroke-width="1.15" fill="none" stroke-linejoin="round"/>
<path d="M1251.3 1508.2L1268.3 1383.1L1285.2 1345.2L1302.2 1311.7L1319.4 1284.9L1336.4 1264.8L1353.3 1251.4L1369.9 1242.5L1386.8 1235.8L1403.8 1230.2L1437.7 1222.4L1471.4 1216.8L1488.4 1214.6" stroke="#30dfe6" stroke-width="1.4" fill="none" stroke-linejoin="round"/>
<path d="M1251.3 1529.4L1270.5 1383.1L1287.2 1345.2L1304.0 1311.7L1320.9 1284.9L1337.6 1264.8L1354.4 1251.4L1370.7 1242.5L1387.4 1235.8L1404.1 1230.2L1437.8 1222.4L1471.4 1216.8L1488.4 1214.6" stroke="#30dfe6" stroke-width="1.4" fill="none" stroke-linejoin="round"/>
<path d="M1251.3 1476.9L1272.7 1383.1L1289.2 1345.2L1305.7 1311.7L1322.4 1284.9L1338.9 1264.8L1355.4 1251.4L1371.5 1242.5L1388.0 1235.8L1404.5 1230.2L1437.9 1222.4L1471.4 1216.8L1488.4 1214.6" stroke="#30dfe6" stroke-width="1.4" fill="none" stroke-linejoin="round"/>
<path d="M1183.7 1470.2L1207.0 1378.7L1223.2 1336.3L1239.5 1308.4L1255.9 1284.9L1272.3 1265.9L1288.7 1252.6L1305.1 1242.5L1321.7 1235.8L1338.1 1230.2L1371.0 1222.4L1404.4 1217.5L1437.7 1214.6L1471.4 1213.0L1488.4 1212.4" stroke="#f0c878" stroke-width="1.15" fill="none" stroke-linejoin="round"/>
<path d="M1183.7 1479.1L1203.9 1378.7L1220.4 1336.3L1237.0 1308.4L1253.7 1284.9L1270.4 1265.9L1287.0 1252.6L1303.7 1242.5L1320.6 1235.8L1337.3 1230.2L1370.5 1222.4L1404.1 1217.5L1437.7 1214.6L1471.4 1213.0L1488.4 1212.4" stroke="#e8a050" stroke-width="1.15" fill="none" stroke-linejoin="round"/>
<path d="M1183.7 1487.0L1200.6 1378.7L1217.4 1336.3L1234.4 1308.4L1251.3 1284.9L1268.3 1265.9L1285.2 1252.6L1302.2 1242.5L1319.4 1235.8L1336.4 1230.2L1369.9 1222.4L1403.8 1217.5L1437.7 1214.6L1471.4 1213.0L1488.4 1212.4" stroke="#f0902a" stroke-width="1.3" fill="none" stroke-linejoin="round"/>
<path d="M1132.8 1501.5L1149.7 1387.6L1166.7 1340.7L1183.7 1305.0L1200.6 1280.5L1217.4 1263.7L1234.4 1251.0L1251.3 1242.1L1268.3 1235.4L1285.2 1230.0L1302.2 1225.8L1336.4 1219.5L1369.9 1215.5L1403.8 1213.0L1437.7 1211.5L1471.4 1210.6L1488.4 1210.1" stroke="#e8e820" stroke-width="1.3" fill="none" stroke-linejoin="round"/>
<path d="M1132.8 1403.2L1153.9 1351.9L1170.5 1318.4L1187.2 1291.6L1203.8 1272.6L1220.2 1258.1L1236.8 1247.0L1253.5 1239.2L1270.1 1233.1L1286.8 1228.0L1303.4 1224.2L1337.2 1218.4L1370.4 1214.6L1404.0 1212.4L1437.7 1210.8L1471.4 1209.9L1488.4 1209.5" stroke="#d8d830" stroke-width="1.1" fill="none" stroke-linejoin="round"/>
<path d="M1132.8 1394.3L1149.7 1351.9L1166.7 1318.4L1183.7 1291.6L1200.6 1272.6L1217.4 1258.1L1234.4 1247.0L1251.3 1239.2L1268.3 1233.1L1285.2 1228.0L1302.2 1224.2L1336.4 1218.4L1369.9 1214.6L1403.8 1212.4L1437.7 1210.8L1471.4 1209.9L1488.4 1209.5" stroke="#8a8a2a" stroke-width="1.15" fill="none" stroke-linejoin="round"/>
<path d="M1132.8 1401.0L1151.8 1351.9L1168.6 1318.4L1185.4 1291.6L1202.2 1272.6L1218.8 1258.1L1235.6 1247.0L1252.4 1239.2L1269.2 1233.1L1286.0 1228.0L1302.8 1224.2L1336.8 1218.4L1370.1 1214.6L1403.9 1212.4L1437.7 1210.8L1471.4 1209.9L1488.4 1209.5" stroke="#8a8a2a" stroke-width="1.15" fill="none" stroke-linejoin="round"/>
<path d="M1081.9 1414.4L1105.9 1345.2L1122.4 1311.7L1138.9 1284.9L1155.3 1265.9L1171.8 1252.6L1188.3 1243.6L1204.7 1236.9L1221.0 1231.8L1237.4 1227.3L1253.9 1224.0L1270.4 1221.3L1303.8 1216.8L1337.5 1213.9L1370.5 1211.9L1403.9 1210.6L1437.7 1209.7L1471.4 1209.0L1488.4 1208.6" stroke="#8a7a2a" stroke-width="1.15" fill="none" stroke-linejoin="round"/>
<path d="M1081.9 1397.7L1102.6 1345.2L1119.3 1311.7L1136.0 1284.9L1152.7 1265.9L1169.4 1252.6L1186.1 1243.6L1202.8 1236.9L1219.3 1231.8L1236.0 1227.3L1252.7 1224.0L1269.4 1221.3L1303.1 1216.8L1337.0 1213.9L1370.2 1211.9L1403.8 1210.6L1437.7 1209.7L1471.4 1209.0L1488.4 1208.6" stroke="#a08040" stroke-width="1.15" fill="none" stroke-linejoin="round"/>
<path d="M1081.9 1385.4L1098.8 1345.2L1115.8 1311.7L1132.8 1284.9L1149.7 1265.9L1166.7 1252.6L1183.7 1243.6L1200.6 1236.9L1217.4 1231.8L1234.4 1227.3L1251.3 1224.0L1268.3 1221.3L1302.2 1216.8L1336.4 1213.9L1369.9 1211.9L1403.8 1210.6L1437.7 1209.7L1471.4 1209.0L1488.4 1208.6" stroke="#b08040" stroke-width="1.3" fill="none" stroke-linejoin="round"/>
</g>
<line x1="741.8" y1="1307.5" x2="1489.1" y2="1307.5" stroke="#a81e2a" stroke-width="3.2"/>
<text x="744.3" y="1304.6" font-size="16.2" font-weight="bold" fill="#d21e24" font-family="'Liberation Serif', serif">0.009881</text>
<rect x="1092.7" y="1341.3" width="4.6" height="4.6" fill="#fff" stroke="#777" stroke-width="0.9"/>
<rect x="1096.7" y="1340.7" width="5.8" height="5.8" fill="#e01010"/>
<rect x="1094.9" y="1350.3" width="4.6" height="4.6" fill="#fff" stroke="#777" stroke-width="0.9"/>
<rect x="1098.9" y="1349.7" width="5.8" height="5.8" fill="#e01010"/>
<rect x="1094.9" y="1357.0" width="4.6" height="4.6" fill="#fff" stroke="#777" stroke-width="0.9"/>
<rect x="1098.9" y="1356.4" width="5.8" height="5.8" fill="#e01010"/>
<rect x="1143.3" y="1350.7" width="4.6" height="4.6" fill="#fff" stroke="#777" stroke-width="0.9"/>
<rect x="1147.3" y="1350.1" width="5.8" height="5.8" fill="#e01010"/>
<rect x="1145.1" y="1352.9" width="4.6" height="4.6" fill="#fff" stroke="#777" stroke-width="0.9"/>
<rect x="1149.1" y="1352.3" width="5.8" height="5.8" fill="#e01010"/>
<rect x="1160.3" y="1340.7" width="4.6" height="4.6" fill="#fff" stroke="#777" stroke-width="0.9"/>
<rect x="1164.3" y="1340.1" width="5.8" height="5.8" fill="#e01010"/>
<rect x="1211.7" y="1338.9" width="4.6" height="4.6" fill="#fff" stroke="#777" stroke-width="0.9"/>
<rect x="1215.7" y="1338.3" width="5.8" height="5.8" fill="#e01010"/>
<rect x="1213.4" y="1349.6" width="4.6" height="4.6" fill="#fff" stroke="#777" stroke-width="0.9"/>
<rect x="1217.4" y="1349.0" width="5.8" height="5.8" fill="#e01010"/>
<rect x="1213.4" y="1357.0" width="4.6" height="4.6" fill="#fff" stroke="#777" stroke-width="0.9"/>
<rect x="1217.4" y="1356.4" width="5.8" height="5.8" fill="#e01010"/>
<rect x="1279.5" y="1342.2" width="4.6" height="4.6" fill="#fff" stroke="#777" stroke-width="0.9"/>
<rect x="1283.5" y="1341.6" width="5.8" height="5.8" fill="#e01010"/>
<rect x="1280.9" y="1350.7" width="4.6" height="4.6" fill="#fff" stroke="#777" stroke-width="0.9"/>
<rect x="1284.9" y="1350.1" width="5.8" height="5.8" fill="#e01010"/>
<rect x="1313.5" y="1325.3" width="4.6" height="4.6" fill="#fff" stroke="#777" stroke-width="0.9"/>
<rect x="1317.5" y="1324.7" width="5.8" height="5.8" fill="#e01010"/>
<rect x="1313.9" y="1342.9" width="4.6" height="4.6" fill="#fff" stroke="#777" stroke-width="0.9"/>
<rect x="1317.9" y="1342.3" width="5.8" height="5.8" fill="#e01010"/>
<rect x="1313.9" y="1350.3" width="4.6" height="4.6" fill="#fff" stroke="#777" stroke-width="0.9"/>
<rect x="1317.9" y="1349.7" width="5.8" height="5.8" fill="#e01010"/>
<rect x="775.7" y="1395.3" width="4.4" height="4" fill="#fff" stroke="#888" stroke-width="0.8"/>
<rect x="772.1" y="1394.7" width="5.0" height="5.2" fill="#22e022"/>
<rect x="775.7" y="1399.0" width="4.4" height="4" fill="#fff" stroke="#888" stroke-width="0.8"/>
<rect x="772.1" y="1398.4" width="5.0" height="5.2" fill="#22e022"/>
<rect x="775.7" y="1402.7" width="4.4" height="4" fill="#fff" stroke="#888" stroke-width="0.8"/>
<rect x="772.1" y="1402.1" width="5.0" height="5.2" fill="#22e022"/>
<rect x="775.7" y="1406.5" width="4.4" height="4" fill="#fff" stroke="#888" stroke-width="0.8"/>
<rect x="772.1" y="1405.9" width="5.0" height="5.2" fill="#22e022"/>
<rect x="775.7" y="1410.2" width="4.4" height="4" fill="#fff" stroke="#888" stroke-width="0.8"/>
<rect x="772.1" y="1409.6" width="5.0" height="5.2" fill="#22e022"/>
<rect x="775.7" y="1414.0" width="4.4" height="4" fill="#fff" stroke="#888" stroke-width="0.8"/>
<rect x="772.1" y="1413.4" width="5.0" height="5.2" fill="#22e022"/>
<rect x="775.7" y="1417.7" width="4.4" height="4" fill="#fff" stroke="#888" stroke-width="0.8"/>
<rect x="772.1" y="1417.1" width="5.0" height="5.2" fill="#22e022"/>
<rect x="775.7" y="1421.4" width="4.4" height="4" fill="#fff" stroke="#888" stroke-width="0.8"/>
<rect x="772.1" y="1420.8" width="5.0" height="5.2" fill="#22e022"/>
<rect x="775.7" y="1425.2" width="4.4" height="4" fill="#fff" stroke="#888" stroke-width="0.8"/>
<rect x="772.1" y="1424.6" width="5.0" height="5.2" fill="#22e022"/>
<rect x="775.7" y="1428.9" width="4.4" height="4" fill="#fff" stroke="#888" stroke-width="0.8"/>
<rect x="772.1" y="1428.3" width="5.0" height="5.2" fill="#22e022"/>
<rect x="775.7" y="1432.6" width="4.4" height="4" fill="#fff" stroke="#888" stroke-width="0.8"/>
<rect x="772.1" y="1432.0" width="5.0" height="5.2" fill="#22e022"/>
<rect x="775.7" y="1436.4" width="4.4" height="4" fill="#fff" stroke="#888" stroke-width="0.8"/>
<rect x="772.1" y="1435.8" width="5.0" height="5.2" fill="#22e022"/>
<rect x="775.7" y="1440.1" width="4.4" height="4" fill="#fff" stroke="#888" stroke-width="0.8"/>
<rect x="772.1" y="1439.5" width="5.0" height="5.2" fill="#22e022"/>
<rect x="775.7" y="1457.5" width="4.4" height="4" fill="#fff" stroke="#888" stroke-width="0.8"/>
<rect x="772.1" y="1456.9" width="5.0" height="5.2" fill="#22e022"/>
<rect x="775.7" y="1467.1" width="4.4" height="4" fill="#fff" stroke="#888" stroke-width="0.8"/>
<rect x="772.1" y="1466.5" width="5.0" height="5.2" fill="#22e022"/>
<rect x="743.8" y="1187.6" width="744.3" height="365.8" fill="none" stroke="#b4b4b4" stroke-width="1.2"/>
<path d="M760.4 1553.4v3M794.3 1553.4v3M828.1 1553.4v3M861.9 1553.4v3M895.8 1553.4v3M929.6 1553.4v3M963.5 1553.4v3M997.3 1553.4v3M1031.1 1553.4v3M1065.0 1553.4v3M1098.8 1553.4v3M1132.7 1553.4v3M1166.5 1553.4v3M1200.3 1553.4v3M1234.2 1553.4v3M1268.0 1553.4v3M1301.9 1553.4v3M1335.7 1553.4v3M1369.5 1553.4v3M1403.4 1553.4v3M1437.2 1553.4v3M1471.1 1553.4v3M743.8 1489.8h-3M743.8 1398.5h-3M743.8 1307.2h-3M743.8 1215.9h-3" stroke="#999" stroke-width="1" fill="none"/>
<text x="760.4" y="1568.0" font-size="9.5" text-anchor="middle" fill="#111">2</text>
<text x="794.3" y="1568.0" font-size="9.5" text-anchor="middle" fill="#111">4</text>
<text x="828.1" y="1568.0" font-size="9.5" text-anchor="middle" fill="#111">6</text>
<text x="861.9" y="1568.0" font-size="9.5" text-anchor="middle" fill="#111">8</text>
<text x="895.8" y="1568.0" font-size="9.5" text-anchor="middle" fill="#111">10</text>
<text x="929.6" y="1568.0" font-size="9.5" text-anchor="middle" fill="#111">12</text>
<text x="963.5" y="1568.0" font-size="9.5" text-anchor="middle" fill="#111">14</text>
<text x="997.3" y="1568.0" font-size="9.5" text-anchor="middle" fill="#111">16</text>
<text x="1031.1" y="1568.0" font-size="9.5" text-anchor="middle" fill="#111">18</text>
<text x="1065.0" y="1568.0" font-size="9.5" text-anchor="middle" fill="#111">20</text>
<text x="1098.8" y="1568.0" font-size="9.5" text-anchor="middle" fill="#111">22</text>
<text x="1132.7" y="1568.0" font-size="9.5" text-anchor="middle" fill="#111">24</text>
<text x="1166.5" y="1568.0" font-size="9.5" text-anchor="middle" fill="#111">26</text>
<text x="1200.3" y="1568.0" font-size="9.5" text-anchor="middle" fill="#111">28</text>
<text x="1234.2" y="1568.0" font-size="9.5" text-anchor="middle" fill="#111">30</text>
<text x="1268.0" y="1568.0" font-size="9.5" text-anchor="middle" fill="#111">32</text>
<text x="1301.9" y="1568.0" font-size="9.5" text-anchor="middle" fill="#111">34</text>
<text x="1335.7" y="1568.0" font-size="9.5" text-anchor="middle" fill="#111">36</text>
<text x="1369.5" y="1568.0" font-size="9.5" text-anchor="middle" fill="#111">38</text>
<text x="1403.4" y="1568.0" font-size="9.5" text-anchor="middle" fill="#111">40</text>
<text x="1437.2" y="1568.0" font-size="9.5" text-anchor="middle" fill="#111">42</text>
<text x="1471.1" y="1568.0" font-size="9.5" text-anchor="middle" fill="#111">44</text>
<text x="736.2" y="1219.7" font-size="10.9" text-anchor="end" fill="#111">0.1</text>
<text x="736.2" y="1311.0" font-size="10.9" text-anchor="end" fill="#111">0.01</text>
<text x="736.2" y="1402.3" font-size="10.9" text-anchor="end" fill="#111">0.001</text>
<text x="736.2" y="1493.6" font-size="10.9" text-anchor="end" fill="#111">0.0001</text>
<text x="1115.7" y="1586.5" font-size="13.2" text-anchor="middle" fill="#222">Cycle</text>
<text x="693.5" y="1371.0" font-size="12.2" text-anchor="middle" fill="#222" transform="rotate(-90 693.5 1371.0)">ΔRn</text>
<text x="802.7" y="1629.0" font-size="19.8" fill="#111">Extracted RNA</text>
<rect x="955.1" y="1613.4" width="16.4" height="16.4" fill="#f08050"/>
<text x="975.4" y="1629.0" font-size="19.8" fill="#111">10<tspan font-size="12.5" dy="-7.5">5</tspan><tspan dy="7.5"> copies</tspan></text>
<rect x="1073.4" y="1613.4" width="16.4" height="16.4" fill="#8c8c6c"/>
<text x="1093.7" y="1629.0" font-size="19.8" fill="#111">10<tspan font-size="12.5" dy="-7.5">4</tspan><tspan dy="7.5"> copies</tspan></text>
<rect x="1191.7" y="1613.4" width="16.4" height="16.4" fill="#f58220"/>
<text x="1212.0" y="1629.0" font-size="19.8" fill="#111">10<tspan font-size="12.5" dy="-7.5">3</tspan><tspan dy="7.5"> copies</tspan></text>
<rect x="1310.0" y="1613.4" width="16.4" height="16.4" fill="#0b8c4a"/>
<text x="1330.3" y="1629.0" font-size="19.8" fill="#111">10<tspan font-size="12.5" dy="-7.5">2</tspan><tspan dy="7.5"> copies</tspan></text>
<text x="809.4" y="1671.3" font-size="19.8" fill="#111">Thermal lysis</text>
<rect x="955.1" y="1655.7" width="16.4" height="16.4" fill="#8c8c2c"/>
<text x="975.4" y="1671.3" font-size="19.8" fill="#111">10<tspan font-size="12.5" dy="-7.5">5</tspan><tspan dy="7.5"> copies</tspan></text>
<rect x="1073.4" y="1655.7" width="16.4" height="16.4" fill="#e8e800"/>
<text x="1093.7" y="1671.3" font-size="19.8" fill="#111">10<tspan font-size="12.5" dy="-7.5">4</tspan><tspan dy="7.5"> copies</tspan></text>
<rect x="1191.7" y="1655.7" width="16.4" height="16.4" fill="#f0d878"/>
<text x="1212.0" y="1671.3" font-size="19.8" fill="#111">10<tspan font-size="12.5" dy="-7.5">3</tspan><tspan dy="7.5"> copies</tspan></text>
<rect x="1310.0" y="1655.7" width="16.4" height="16.4" fill="#00f0f0"/>
<text x="1330.3" y="1671.3" font-size="19.8" fill="#111">10<tspan font-size="12.5" dy="-7.5">2</tspan><tspan dy="7.5"> copies</tspan></text>
</g>
<g id="panel-g">
<text x="1544.0" y="1133.6" font-size="31" font-weight="bold" fill="#000">g</text>
<line x1="1667.9" y1="1518.8" x2="2121.5" y2="1518.8" stroke="#9a9a9a" stroke-width="1.3" stroke-dasharray="13.5 5.7"/>
<circle cx="1738.6" cy="1283.2" r="7.6" fill="#a8d92d"/>
<circle cx="1749.9" cy="1287.5" r="7.6" fill="#a8d92d"/>
<circle cx="1756.3" cy="1283.2" r="7.6" fill="#a8d92d"/>
<circle cx="1761.6" cy="1299.8" r="7.6" fill="#a8d92d"/>
<circle cx="1744.6" cy="1312.6" r="7.6" fill="#a8d92d"/>
<circle cx="1727.3" cy="1319.7" r="7.6" fill="#a8d92d"/>
<circle cx="1732.9" cy="1363.2" r="7.6" fill="#a8d92d"/>
<circle cx="1709.9" cy="1594.5" r="7.6" fill="#fde12d"/>
<circle cx="1715.6" cy="1618.9" r="7.6" fill="#fde12d"/>
<circle cx="1721.6" cy="1622.4" r="7.6" fill="#2fbf4f"/>
<circle cx="1767.2" cy="1614.6" r="7.6" fill="#2c6590"/>
<circle cx="1773.3" cy="1621.7" r="7.6" fill="#2c6590"/>
<circle cx="1779.3" cy="1620.7" r="7.6" fill="#2c6590"/>
<circle cx="1784.6" cy="1623.5" r="7.6" fill="#2c6590"/>
<circle cx="1881.1" cy="1305.9" r="7.6" fill="#2fbf4f"/>
<circle cx="1869.5" cy="1552.7" r="7.6" fill="#fde12d"/>
<circle cx="1875.1" cy="1603.0" r="7.6" fill="#fde12d"/>
<circle cx="1887.2" cy="1575.7" r="7.6" fill="#a8d92d"/>
<circle cx="1892.1" cy="1581.0" r="7.6" fill="#a8d92d"/>
<circle cx="1898.5" cy="1582.8" r="7.6" fill="#a8d92d"/>
<circle cx="1904.1" cy="1575.7" r="7.6" fill="#a8d92d"/>
<circle cx="1909.8" cy="1581.8" r="7.6" fill="#a8d92d"/>
<circle cx="1915.1" cy="1592.7" r="7.6" fill="#a8d92d"/>
<circle cx="1921.5" cy="1577.5" r="7.6" fill="#a8d92d"/>
<circle cx="1926.8" cy="1580.3" r="7.6" fill="#2c6590"/>
<circle cx="1932.4" cy="1566.2" r="7.6" fill="#2c6590"/>
<circle cx="1938.4" cy="1595.9" r="7.6" fill="#2c6590"/>
<circle cx="1944.1" cy="1593.4" r="7.6" fill="#2c6590"/>
<circle cx="2086.3" cy="1435.0" r="7.6" fill="#2c6590"/>
<circle cx="2098.0" cy="1436.7" r="7.6" fill="#2c6590"/>
<circle cx="2091.9" cy="1451.2" r="7.6" fill="#2c6590"/>
<circle cx="2103.6" cy="1451.2" r="7.6" fill="#2c6590"/>
<circle cx="2034.6" cy="1549.6" r="7.6" fill="#fde12d"/>
<circle cx="2029.0" cy="1589.2" r="7.6" fill="#fde12d"/>
<circle cx="2040.7" cy="1580.3" r="7.6" fill="#2fbf4f"/>
<circle cx="2046.3" cy="1553.5" r="7.6" fill="#a8d92d"/>
<circle cx="2052.3" cy="1529.1" r="7.6" fill="#a8d92d"/>
<circle cx="2058.0" cy="1549.9" r="7.6" fill="#a8d92d"/>
<circle cx="2063.7" cy="1540.4" r="7.6" fill="#a8d92d"/>
<circle cx="2069.3" cy="1537.9" r="7.6" fill="#a8d92d"/>
<circle cx="2075.3" cy="1559.1" r="7.6" fill="#a8d92d"/>
<circle cx="2081.0" cy="1545.7" r="7.6" fill="#a8d92d"/>
<path d="M1679 1243.3H1667.9V1646.7" stroke="#000" stroke-width="2.2" fill="none"/>
<path d="M1667.9 1319.2h11M1667.9 1395.1h11M1667.9 1471.0h11M1667.9 1546.9h11M1667.9 1622.8h11" stroke="#000" stroke-width="2" fill="none"/>
<rect x="1667.9" y="1646.7" width="478.9" height="35.6" fill="#fff" stroke="#000" stroke-width="2.2"/>
<path d="M1827 1646.7v35.6M1986.9 1646.7v35.6" stroke="#000" stroke-width="2.2" fill="none"/>
<text x="1747.4" y="1672.2" font-size="21.2" text-anchor="middle" font-weight="bold" fill="#000">Y144del</text>
<text x="1907.0" y="1672.2" font-size="21.2" text-anchor="middle" font-weight="bold" fill="#000">K417N</text>
<text x="2066.8" y="1672.2" font-size="21.2" text-anchor="middle" font-weight="bold" fill="#000">L452R</text>
<text x="1652.5" y="1249.4" font-size="19" text-anchor="end" fill="#111">100%</text>
<text x="1652.5" y="1324.3" font-size="19" text-anchor="end" fill="#111">80%</text>
<text x="1652.5" y="1399.7" font-size="19" text-anchor="end" fill="#111">60%</text>
<text x="1652.5" y="1474.7" font-size="19" text-anchor="end" fill="#111">40%</text>
<text x="1652.5" y="1548.9" font-size="19" text-anchor="end" fill="#111">20%</text>
<text x="1648.0" y="1622.3" font-size="19" text-anchor="end" fill="#111">0</text>
<text x="1577.0" y="1430.7" font-size="22" text-anchor="middle" fill="#111" transform="rotate(-90 1577.0 1430.7)">Compute mutation index</text>
<circle cx="1607.7" cy="1182.1" r="8.0" fill="#fde12d"/>
<text x="1623.6" y="1189.8" font-size="21.8" fill="#111">Wild type</text>
<circle cx="1783.5" cy="1182.1" r="8.0" fill="#a8d92d"/>
<text x="1799.1" y="1189.8" font-size="21.8" fill="#111">Alpha</text>
<circle cx="1930.3" cy="1182.1" r="8.0" fill="#2fb87a"/>
<text x="1946.2" y="1189.8" font-size="21.8" fill="#111">Beta</text>
<circle cx="2064.0" cy="1182.1" r="8.0" fill="#2b708f"/>
<text x="2078.2" y="1189.8" font-size="21.8" fill="#111">Delta</text>
</g>

</svg>
</body>
</html>
